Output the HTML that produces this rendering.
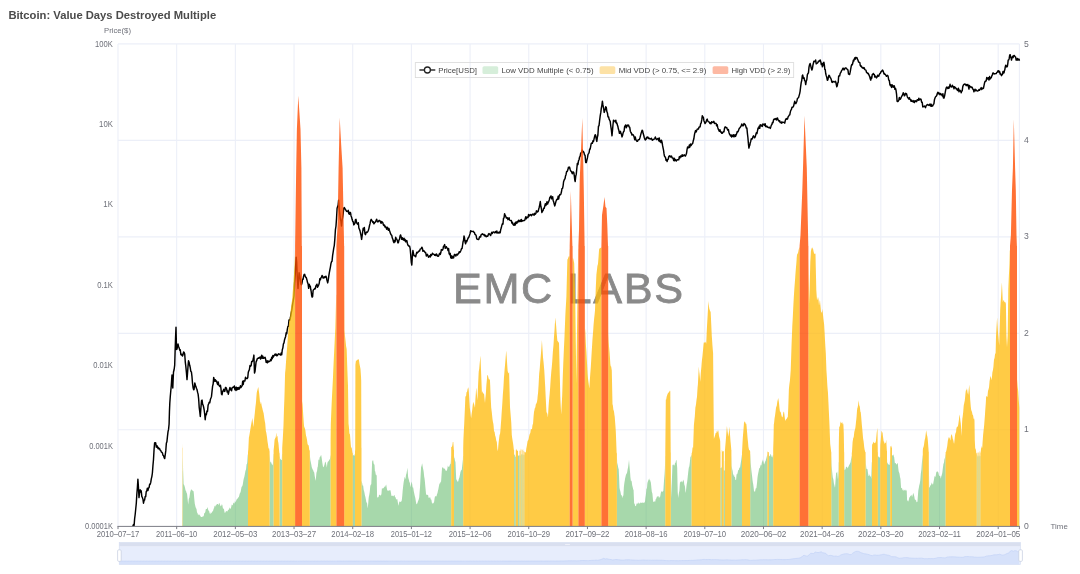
<!DOCTYPE html>
<html><head><meta charset="utf-8"><title>Bitcoin: Value Days Destroyed Multiple</title>
<style>html,body{margin:0;padding:0;background:#fff;}svg{display:block;filter:blur(0.35px);}text{font-family:"Liberation Sans",sans-serif;}</style>
</head><body>
<svg width="1080" height="574" viewBox="0 0 1080 574">
<rect x="0" y="0" width="1080" height="574" fill="#ffffff"/>
<g stroke="#eceff8" stroke-width="1.1" fill="none">
<line x1="118.00" y1="43.90" x2="118.00" y2="526.30"/>
<line x1="176.68" y1="43.90" x2="176.68" y2="526.30"/>
<line x1="235.36" y1="43.90" x2="235.36" y2="526.30"/>
<line x1="294.04" y1="43.90" x2="294.04" y2="526.30"/>
<line x1="352.72" y1="43.90" x2="352.72" y2="526.30"/>
<line x1="411.40" y1="43.90" x2="411.40" y2="526.30"/>
<line x1="470.08" y1="43.90" x2="470.08" y2="526.30"/>
<line x1="528.76" y1="43.90" x2="528.76" y2="526.30"/>
<line x1="587.44" y1="43.90" x2="587.44" y2="526.30"/>
<line x1="646.12" y1="43.90" x2="646.12" y2="526.30"/>
<line x1="704.80" y1="43.90" x2="704.80" y2="526.30"/>
<line x1="763.48" y1="43.90" x2="763.48" y2="526.30"/>
<line x1="822.16" y1="43.90" x2="822.16" y2="526.30"/>
<line x1="880.84" y1="43.90" x2="880.84" y2="526.30"/>
<line x1="939.52" y1="43.90" x2="939.52" y2="526.30"/>
<line x1="998.20" y1="43.90" x2="998.20" y2="526.30"/>
<line x1="1019.40" y1="43.90" x2="1019.40" y2="526.30"/>
<line x1="118.00" y1="43.90" x2="1019.40" y2="43.90"/>
<line x1="118.00" y1="140.38" x2="1019.40" y2="140.38"/>
<line x1="118.00" y1="236.86" x2="1019.40" y2="236.86"/>
<line x1="118.00" y1="333.34" x2="1019.40" y2="333.34"/>
<line x1="118.00" y1="429.82" x2="1019.40" y2="429.82"/>
</g>
<text x="453.0" y="303.4" font-size="43.2" letter-spacing="1.65" fill="#8a8a8a" stroke="#8a8a8a" stroke-width="0.8" text-anchor="start">EMC LABS</text>
<clipPath id="cp"><rect x="117.00" y="41.90" width="903.40" height="484.80"/></clipPath>
<path d="M132.90,526.00L133.50,524.45L134.10,525.50L134.60,519.00L135.17,514.48L135.73,508.95L136.30,503.20L136.83,494.31L137.37,487.86L137.90,479.30L138.45,487.33L139.00,497.60L139.55,492.70L140.10,489.80L140.67,492.01L141.23,490.87L141.80,496.36L142.37,497.48L142.93,499.14L143.50,503.20L144.05,500.62L144.60,500.05L145.15,496.54L145.70,496.58L146.25,491.50L146.80,490.90L147.37,488.14L147.93,490.61L148.50,488.05L149.07,487.61L149.63,484.28L150.20,484.20L150.75,482.41L151.30,478.92L151.85,476.61L152.40,473.00L152.95,465.53L153.50,459.51L154.05,449.69L154.60,443.00L155.17,442.71L155.73,442.99L156.30,447.20L156.87,445.74L157.43,446.28L158.00,448.50L158.55,447.89L159.10,449.08L159.65,448.61L160.20,450.40L160.75,450.55L161.30,451.90L161.87,452.33L162.43,452.93L163.00,455.30L163.57,455.79L164.13,457.63L164.70,458.60L165.25,454.71L165.80,450.63L166.35,443.26L166.90,441.80L167.45,436.68L168.00,431.91L168.55,429.42L169.10,424.00L169.45,411.58L169.80,403.10L170.30,396.24L170.80,390.80L171.30,385.20L171.65,379.68L172.00,375.00L172.40,382.74L172.80,388.00L173.15,379.45L173.50,372.00L174.10,369.76L174.70,365.10L175.13,350.63L175.57,337.57L176.00,327.20L176.50,349.50L177.00,349.19L177.50,346.38L178.00,344.00L178.57,346.46L179.13,347.85L179.70,350.16L180.27,349.88L180.83,354.44L181.40,355.10L181.95,354.25L182.50,355.97L183.05,354.66L183.60,351.90L184.15,352.57L184.70,354.00L185.27,361.81L185.85,366.63L186.43,372.71L187.00,379.60L187.50,373.60L188.00,366.47L188.50,360.70L189.08,362.24L189.66,365.27L190.24,367.54L190.82,371.48L191.40,371.80L191.95,376.33L192.50,383.10L193.05,387.48L193.60,389.70L194.00,389.61L194.40,386.56L194.80,383.00L195.35,385.01L195.90,386.87L196.45,388.37L197.00,389.49L197.55,392.17L198.10,394.10L198.65,398.90L199.20,407.35L199.75,411.57L200.30,416.50L200.90,408.09L201.50,400.80L202.05,400.08L202.60,404.08L203.15,405.30L203.70,407.50L204.20,410.24L204.70,414.28L205.20,419.80L205.78,414.09L206.36,414.71L206.94,411.02L207.52,411.43L208.10,405.30L208.67,403.78L209.23,402.15L209.80,402.66L210.37,399.53L210.93,398.09L211.50,396.40L212.05,391.19L212.60,386.14L213.15,384.02L213.70,377.40L214.27,379.58L214.83,381.41L215.40,379.76L215.97,381.17L216.53,380.97L217.10,383.00L217.65,384.58L218.20,381.99L218.75,384.81L219.30,385.84L219.85,386.60L220.40,385.20L220.95,388.48L221.50,394.10L222.06,394.64L222.62,391.56L223.19,390.68L223.75,389.15L224.31,391.42L224.88,391.21L225.44,387.58L226.00,387.50L226.60,388.80L227.20,392.00L227.75,391.13L228.30,394.23L228.85,391.91L229.40,389.52L229.95,387.51L230.50,388.46L231.05,390.33L231.60,390.73L232.15,387.62L232.70,387.50L233.25,386.91L233.80,387.41L234.35,385.97L234.90,389.74L235.45,387.52L236.00,390.48L236.55,387.29L237.10,389.70L237.66,387.69L238.22,389.21L238.79,387.47L239.35,388.98L239.91,387.59L240.47,385.68L241.04,387.50L241.60,386.30L242.15,385.98L242.70,381.16L243.25,384.46L243.80,380.80L244.37,381.04L244.93,380.98L245.50,377.32L246.07,378.37L246.63,378.45L247.20,378.50L247.75,377.62L248.30,372.23L248.85,370.72L249.40,369.60L249.97,365.58L250.53,366.33L251.10,365.58L251.67,361.56L252.23,361.44L252.80,360.70L253.35,358.54L253.90,355.10L254.50,373.00L255.03,371.25L255.57,366.36L256.10,361.80L256.67,360.67L257.23,358.83L257.80,358.38L258.37,357.97L258.93,358.23L259.50,357.30L260.05,357.05L260.60,359.02L261.15,357.11L261.70,355.23L262.25,358.31L262.80,356.20L263.36,358.22L263.93,358.00L264.49,357.81L265.05,357.21L265.61,359.11L266.18,362.36L266.74,361.06L267.30,362.90L267.85,360.70L268.40,362.04L268.95,361.55L269.50,361.46L270.05,360.97L270.60,359.60L271.16,360.66L271.73,357.15L272.29,358.72L272.85,355.57L273.41,356.97L273.98,355.62L274.54,355.00L275.10,354.00L275.65,355.32L276.20,354.20L276.75,355.72L277.30,355.53L277.85,354.72L278.40,353.95L278.95,353.83L279.50,354.22L280.05,354.74L280.60,355.10L281.17,353.02L281.73,354.73L282.30,349.75L282.87,347.86L283.43,343.77L284.00,342.80L284.55,339.70L285.10,337.97L285.65,336.39L286.20,332.64L286.75,333.73L287.30,329.50L287.87,326.56L288.43,326.38L289.00,319.88L289.57,320.56L290.13,318.68L290.70,316.10L291.25,312.99L291.80,310.15L292.35,306.40L292.90,302.70L293.45,299.55L294.00,296.00L294.60,283.13L295.20,275.00L295.70,265.21L296.20,257.20L296.65,262.10L297.10,273.64L297.55,281.06L298.00,288.50L298.55,280.41L299.10,272.80L299.70,275.51L300.30,279.54L300.90,284.00L301.44,284.75L301.98,283.04L302.52,279.25L303.06,279.37L303.60,276.20L304.15,274.49L304.70,274.33L305.25,276.42L305.80,277.30L306.38,277.88L306.95,279.95L307.53,282.56L308.10,284.00L308.65,288.33L309.20,284.27L309.75,285.71L310.30,286.20L310.75,289.25L311.20,291.56L311.65,295.46L312.10,297.00L312.60,296.75L313.10,290.51L313.60,289.60L314.16,289.38L314.73,288.42L315.29,288.77L315.85,285.99L316.41,285.28L316.98,284.15L317.54,287.28L318.10,286.20L318.67,284.96L319.23,283.33L319.80,278.79L320.37,279.80L320.93,277.84L321.50,277.30L322.05,275.53L322.60,276.16L323.15,278.17L323.70,277.30L324.25,277.71L324.80,276.72L325.35,277.12L325.90,276.20L326.35,277.12L326.80,279.64L327.25,281.28L327.70,282.90L328.23,280.23L328.77,276.08L329.30,272.80L329.85,269.85L330.40,267.08L330.95,263.67L331.50,261.70L332.05,261.14L332.60,255.64L333.15,252.19L333.70,248.30L334.27,245.59L334.85,238.90L335.43,229.63L336.00,226.00L336.55,217.97L337.10,208.20L337.60,206.61L338.10,205.29L338.60,200.30L339.20,208.28L339.80,213.93L340.40,219.30L340.95,221.18L341.50,226.00L342.07,220.46L342.65,217.44L343.23,213.28L343.80,208.20L344.35,207.47L344.90,208.82L345.45,209.35L346.00,210.48L346.55,211.37L347.10,211.50L347.67,211.32L348.23,210.32L348.80,213.60L349.37,214.23L349.93,212.28L350.50,212.60L351.05,215.93L351.60,217.26L352.15,219.57L352.70,221.40L353.25,221.90L353.80,224.90L354.35,224.22L354.90,223.36L355.45,219.58L356.00,219.30L356.57,222.61L357.15,223.61L357.73,224.13L358.30,222.70L358.85,227.97L359.40,229.19L359.95,230.63L360.50,233.08L361.05,235.60L361.60,239.40L362.13,235.81L362.67,231.89L363.20,228.20L363.78,229.94L364.36,227.48L364.94,233.79L365.52,234.65L366.10,232.70L366.65,232.12L367.20,232.45L367.75,231.64L368.30,230.50L368.88,228.60L369.46,225.76L370.04,223.63L370.62,220.51L371.20,219.30L371.74,220.42L372.28,221.07L372.82,222.40L373.36,221.83L373.90,223.80L374.45,223.00L375.00,222.16L375.55,222.01L376.10,220.40L376.66,219.18L377.22,221.14L377.78,221.96L378.34,221.59L378.90,220.49L379.46,220.45L380.02,220.87L380.58,222.19L381.14,223.33L381.70,221.50L382.25,222.24L382.80,222.56L383.35,224.77L383.90,225.49L384.45,225.03L385.00,227.10L385.56,226.60L386.12,227.82L386.69,229.21L387.25,227.31L387.81,227.95L388.38,230.27L388.94,228.54L389.50,230.50L390.06,232.16L390.62,233.99L391.19,234.94L391.75,235.33L392.31,238.05L392.88,239.23L393.44,241.60L394.00,242.70L394.55,240.55L395.10,241.86L395.65,237.31L396.20,238.30L396.75,239.18L397.30,240.51L397.85,242.80L398.40,242.70L398.95,239.99L399.50,239.48L400.05,236.14L400.60,234.90L401.18,236.95L401.75,239.32L402.32,237.77L402.90,239.40L403.45,239.95L404.00,238.24L404.55,240.62L405.10,239.40L405.66,241.75L406.23,241.12L406.79,240.49L407.35,243.25L407.91,245.02L408.48,245.79L409.04,246.28L409.60,246.10L410.15,248.54L410.70,254.70L411.25,262.05L411.80,265.00L412.35,256.22L412.90,250.50L413.45,253.31L414.00,255.65L414.55,255.65L415.10,256.10L415.67,256.75L416.23,254.18L416.80,252.32L417.37,252.97L417.93,252.10L418.50,251.60L419.05,250.81L419.60,251.00L420.15,249.22L420.70,248.91L421.25,248.46L421.80,247.20L422.37,248.13L422.93,251.37L423.50,250.55L424.07,251.04L424.63,251.61L425.20,252.80L425.75,252.75L426.30,255.95L426.85,255.19L427.40,254.38L427.95,255.76L428.50,257.20L429.06,256.62L429.62,255.82L430.19,257.05L430.75,254.39L431.31,255.63L431.88,254.87L432.44,253.13L433.00,253.90L433.56,254.22L434.12,254.36L434.69,255.23L435.25,254.55L435.81,255.58L436.38,253.88L436.94,254.74L437.50,256.10L438.05,256.33L438.60,256.04L439.15,254.44L439.70,253.30L440.25,254.43L440.80,252.80L441.35,249.59L441.90,249.77L442.45,250.12L443.00,248.99L443.55,246.18L444.10,246.10L444.67,244.58L445.23,248.29L445.80,247.35L446.37,246.67L446.93,247.99L447.50,248.30L448.04,250.63L448.59,248.57L449.13,253.70L449.67,254.75L450.21,253.36L450.76,257.64L451.30,258.30L451.88,255.86L452.46,258.12L453.04,256.72L453.62,257.91L454.20,255.00L454.75,254.39L455.30,255.00L455.85,256.05L456.40,254.36L456.95,254.30L457.50,255.00L458.07,253.88L458.63,253.43L459.20,251.67L459.77,252.48L460.33,251.79L460.90,250.50L461.47,248.74L462.03,248.53L462.60,245.00L463.07,241.67L463.53,240.31L464.00,236.00L464.53,238.05L465.07,241.96L465.60,243.80L466.15,240.75L466.70,241.76L467.25,240.27L467.80,238.84L468.35,237.61L468.90,237.10L469.47,235.38L470.05,233.63L470.62,230.78L471.20,231.60L471.75,231.19L472.30,231.42L472.85,231.63L473.40,231.28L473.95,232.38L474.50,232.70L475.05,234.60L475.60,234.68L476.15,235.56L476.70,238.52L477.25,239.26L477.80,239.40L478.36,239.62L478.93,239.16L479.49,236.97L480.05,236.47L480.61,237.01L481.18,234.65L481.74,234.38L482.30,233.80L482.86,234.45L483.43,234.72L483.99,234.35L484.55,235.88L485.11,235.00L485.68,236.18L486.24,236.80L486.80,236.00L487.35,236.38L487.90,236.18L488.45,234.02L489.00,233.59L489.55,234.01L490.10,234.83L490.65,235.58L491.20,233.80L491.76,232.30L492.32,233.56L492.89,232.12L493.45,231.97L494.01,232.15L494.57,232.84L495.14,232.09L495.70,231.60L496.26,232.92L496.82,230.89L497.39,232.90L497.95,233.08L498.51,232.36L499.07,232.90L499.64,232.00L500.20,232.70L500.75,229.39L501.30,227.84L501.85,225.38L502.40,223.80L502.95,224.17L503.50,218.26L504.05,217.88L504.60,213.70L505.15,215.03L505.70,216.26L506.25,217.82L506.80,218.20L507.36,217.70L507.93,219.67L508.49,219.40L509.05,217.78L509.61,220.18L510.18,220.40L510.74,220.58L511.30,220.40L511.85,223.11L512.40,222.24L512.95,224.29L513.50,224.90L514.06,225.31L514.62,223.32L515.18,225.08L515.74,222.09L516.30,221.90L516.86,223.38L517.42,221.43L517.98,222.06L518.54,220.20L519.10,221.50L519.66,221.46L520.22,220.15L520.78,221.51L521.34,219.53L521.90,221.40L522.46,220.57L523.02,220.79L523.58,220.55L524.14,220.64L524.70,220.40L525.25,218.53L525.80,216.74L526.35,218.78L526.90,217.26L527.45,217.20L528.00,217.53L528.55,214.56L529.10,216.00L529.66,215.09L530.23,215.09L530.79,214.49L531.35,215.73L531.91,215.11L532.48,214.28L533.04,213.97L533.60,214.80L534.16,215.19L534.73,213.32L535.29,214.15L535.85,213.60L536.41,210.84L536.98,211.24L537.54,211.92L538.10,211.50L538.65,209.34L539.20,207.28L539.75,204.80L540.30,201.50L540.83,206.23L541.37,208.53L541.90,212.60L542.48,211.05L543.06,210.70L543.64,208.15L544.22,208.30L544.80,205.90L545.35,203.76L545.90,205.45L546.45,204.08L547.00,201.73L547.55,204.13L548.10,202.60L548.68,201.57L549.26,199.94L549.84,197.50L550.42,196.77L551.00,195.90L551.54,198.84L552.09,197.93L552.63,196.71L553.17,200.76L553.71,201.84L554.26,204.34L554.80,205.90L555.35,203.83L555.90,201.64L556.45,200.03L557.00,199.20L557.57,199.51L558.13,196.29L558.70,198.96L559.27,195.72L559.83,194.44L560.40,194.80L560.94,193.79L561.48,191.76L562.02,188.36L562.56,188.35L563.10,185.80L563.57,181.79L564.03,180.54L564.50,179.30L565.00,178.89L565.50,175.98L566.00,174.70L566.60,171.55L567.20,171.51L567.80,170.07L568.40,167.30L568.98,168.10L569.56,167.13L570.14,169.41L570.72,171.00L571.30,171.40L571.80,172.41L572.30,173.73L572.80,171.87L573.30,171.88L573.80,172.60L574.27,175.53L574.73,179.74L575.20,181.50L575.73,176.23L576.27,174.14L576.80,168.50L577.36,163.45L577.92,164.70L578.48,160.92L579.04,159.76L579.60,157.00L580.14,156.35L580.68,153.14L581.22,152.89L581.76,151.88L582.30,150.30L582.85,152.01L583.40,151.62L583.95,152.68L584.50,154.80L585.10,155.48L585.70,162.54L586.30,162.60L586.88,160.16L587.45,157.88L588.02,154.36L588.60,153.60L589.12,152.53L589.64,149.07L590.16,149.04L590.68,146.45L591.20,143.60L591.78,143.07L592.35,143.23L592.92,140.84L593.50,141.40L594.07,138.84L594.63,136.36L595.20,134.70L595.73,135.66L596.27,139.18L596.80,141.40L597.35,137.36L597.90,135.04L598.45,126.35L599.00,125.80L599.60,120.66L600.20,115.95L600.80,112.40L601.33,108.20L601.87,105.36L602.40,101.20L602.85,104.40L603.30,106.83L603.75,109.13L604.20,112.40L604.70,111.03L605.20,109.03L605.70,106.80L606.28,107.46L606.85,111.54L607.42,112.93L608.00,116.80L608.55,116.74L609.10,119.20L609.65,120.24L610.20,121.30L610.80,126.25L611.40,130.09L612.00,135.80L612.50,130.40L613.00,124.49L613.50,120.20L614.08,120.58L614.65,120.89L615.22,121.96L615.80,120.20L616.32,123.25L616.84,122.95L617.36,125.08L617.88,126.38L618.40,129.10L618.91,130.52L619.43,133.31L619.94,133.15L620.46,131.36L620.97,133.41L621.49,134.49L622.00,136.90L622.52,135.57L623.03,133.20L623.55,131.65L624.07,131.28L624.58,126.82L625.10,125.80L625.68,124.95L626.26,127.77L626.84,126.14L627.42,125.02L628.00,125.80L628.58,125.11L629.16,126.96L629.74,127.38L630.32,131.23L630.90,132.50L631.43,133.28L631.97,134.96L632.50,134.56L633.03,134.74L633.57,135.43L634.10,136.90L634.68,139.70L635.26,136.93L635.84,139.77L636.42,140.53L637.00,141.40L637.58,141.34L638.16,139.64L638.74,139.86L639.32,139.50L639.90,138.00L640.45,135.90L641.00,133.64L641.55,131.96L642.10,130.20L642.64,131.02L643.18,133.55L643.72,135.24L644.26,137.53L644.80,139.10L645.38,140.00L645.96,139.53L646.54,137.33L647.12,137.94L647.70,136.90L648.22,137.63L648.74,138.54L649.26,138.24L649.78,138.93L650.30,139.10L650.86,138.59L651.42,138.24L651.98,139.85L652.54,140.24L653.10,139.56L653.66,139.30L654.22,139.09L654.78,138.33L655.34,136.96L655.90,138.70L656.46,139.52L657.02,139.22L657.58,138.63L658.14,138.38L658.70,140.78L659.26,137.86L659.82,141.58L660.38,140.62L660.94,142.51L661.50,140.30L662.03,142.18L662.57,145.48L663.10,148.10L663.53,150.19L663.97,153.46L664.40,155.90L664.94,156.81L665.48,157.39L666.02,160.33L666.56,159.60L667.10,161.50L667.65,159.59L668.20,159.25L668.75,156.76L669.30,155.90L669.85,155.83L670.40,156.99L670.95,156.63L671.50,156.12L672.05,157.63L672.60,158.10L673.14,158.29L673.69,160.63L674.23,158.25L674.77,160.73L675.31,159.39L675.86,160.23L676.40,161.00L676.99,159.94L677.57,159.81L678.16,159.68L678.74,159.84L679.33,156.72L679.91,157.96L680.50,155.90L681.05,156.79L681.60,156.49L682.15,154.81L682.70,156.36L683.25,155.24L683.80,155.59L684.35,154.86L684.90,155.68L685.45,156.03L686.00,154.80L686.53,153.33L687.07,149.39L687.60,147.00L688.17,147.67L688.74,147.79L689.31,145.08L689.89,147.16L690.46,144.02L691.03,145.57L691.60,144.70L692.15,143.89L692.70,143.38L693.25,140.78L693.80,139.10L694.20,136.42L694.60,133.90L695.00,132.50L695.58,130.57L696.16,131.91L696.74,130.22L697.32,129.06L697.90,129.10L698.45,129.08L699.00,127.24L699.55,127.01L700.10,126.90L700.65,123.64L701.20,122.95L701.75,119.96L702.30,115.70L702.84,117.10L703.38,117.25L703.92,120.66L704.46,122.01L705.00,123.50L705.55,122.75L706.10,121.87L706.65,119.88L707.20,119.10L707.74,120.91L708.28,121.70L708.82,121.95L709.36,122.21L709.90,123.50L710.48,122.80L711.06,123.75L711.64,121.74L712.22,122.46L712.80,122.40L713.35,121.83L713.90,121.37L714.45,123.55L715.00,123.11L715.55,123.35L716.10,123.50L716.64,125.71L717.18,124.69L717.72,127.45L718.26,129.15L718.80,130.20L719.37,131.36L719.94,129.77L720.51,131.90L721.09,131.73L721.66,133.20L722.23,133.31L722.80,132.50L723.38,131.65L723.95,131.85L724.52,128.30L725.10,126.90L725.65,127.03L726.20,127.66L726.75,127.61L727.30,129.10L727.84,130.19L728.38,129.46L728.92,132.38L729.46,134.01L730.00,134.70L730.57,136.01L731.14,134.98L731.71,137.03L732.29,135.31L732.86,136.14L733.43,134.71L734.00,136.90L734.54,135.48L735.08,134.79L735.62,136.38L736.16,134.78L736.70,133.60L737.28,131.40L737.86,131.88L738.44,130.71L739.02,128.89L739.60,128.00L740.15,127.46L740.70,126.58L741.25,125.78L741.80,124.02L742.35,125.10L742.90,125.88L743.45,125.46L744.00,123.50L744.58,124.13L745.16,124.57L745.74,125.99L746.32,127.98L746.90,128.00L747.40,133.37L747.90,137.48L748.40,143.43L748.90,148.10L749.35,146.22L749.80,145.25L750.25,142.68L750.70,141.40L751.25,138.84L751.80,139.21L752.35,138.77L752.90,136.90L753.48,135.82L754.05,136.80L754.62,137.76L755.20,136.90L755.78,134.75L756.36,132.71L756.94,133.54L757.52,130.59L758.10,128.00L758.64,128.56L759.18,126.20L759.72,128.27L760.26,124.63L760.80,125.80L761.32,125.06L761.84,126.04L762.36,126.38L762.88,123.93L763.40,124.60L763.97,124.28L764.54,125.45L765.11,123.71L765.69,126.54L766.26,126.79L766.83,126.14L767.40,126.90L767.97,127.42L768.53,127.65L769.10,127.20L769.67,127.41L770.23,128.37L770.80,126.90L771.35,125.14L771.90,124.46L772.45,122.49L773.00,122.70L773.55,120.00L774.10,119.10L774.67,119.38L775.23,118.87L775.80,118.61L776.37,120.03L776.93,118.10L777.50,118.00L778.05,120.11L778.60,120.27L779.15,121.48L779.70,120.77L780.25,122.56L780.80,122.40L781.37,123.13L781.93,121.81L782.50,122.66L783.07,122.28L783.63,122.37L784.20,122.40L784.75,123.11L785.30,120.60L785.85,119.12L786.40,118.52L786.95,119.21L787.50,119.10L788.07,116.98L788.63,116.11L789.20,115.15L789.77,114.80L790.33,111.90L790.90,110.10L791.45,109.45L792.00,107.19L792.55,107.36L793.10,107.01L793.65,105.89L794.20,103.50L794.74,101.16L795.28,103.44L795.82,103.65L796.36,102.46L796.90,101.20L797.45,98.36L798.00,98.10L798.55,97.57L799.10,95.60L799.60,93.85L800.10,91.30L800.65,86.62L801.20,82.64L801.75,80.53L802.30,75.70L802.75,74.99L803.20,78.23L803.65,77.44L804.10,78.00L804.63,80.49L805.17,81.12L805.70,84.60L806.25,81.25L806.80,79.71L807.35,74.86L807.90,73.50L808.45,72.97L809.00,67.10L809.55,64.75L810.10,63.40L810.70,65.67L811.30,68.33L811.90,70.10L812.40,68.58L812.90,65.29L813.40,63.23L813.90,61.20L814.48,61.41L815.06,61.53L815.64,60.04L816.22,63.88L816.80,63.40L817.37,63.09L817.93,62.45L818.50,61.15L819.07,61.44L819.63,60.64L820.20,60.10L820.75,61.70L821.30,64.51L821.85,63.47L822.40,66.80L822.90,65.54L823.40,62.78L823.90,62.30L824.35,64.79L824.80,69.34L825.25,69.66L825.70,73.50L826.23,75.64L826.77,77.40L827.30,80.20L827.85,79.99L828.40,77.01L828.95,75.21L829.50,75.70L830.08,77.53L830.66,78.04L831.24,79.41L831.82,82.10L832.40,82.40L832.98,81.33L833.56,81.60L834.14,81.88L834.72,81.92L835.30,81.30L835.80,81.90L836.30,84.49L836.80,86.75L837.30,85.70L837.75,82.81L838.20,82.50L838.65,76.17L839.10,75.70L839.68,75.93L840.26,73.13L840.84,72.47L841.42,70.89L842.00,70.10L842.52,69.12L843.03,68.14L843.55,68.62L844.07,69.88L844.58,69.36L845.10,67.90L845.70,67.93L846.30,68.13L846.90,69.00L847.44,69.45L847.98,70.09L848.52,74.09L849.06,74.12L849.60,74.60L850.15,72.19L850.70,69.08L851.25,66.04L851.80,64.50L852.30,64.66L852.80,63.05L853.30,60.29L853.80,61.05L854.30,59.00L854.84,57.70L855.38,59.14L855.92,57.36L856.46,57.64L857.00,57.80L857.55,59.40L858.10,60.47L858.65,62.15L859.20,62.30L859.75,62.43L860.30,65.68L860.85,66.39L861.40,66.02L861.95,67.41L862.50,67.90L863.07,67.52L863.63,68.49L864.20,67.73L864.77,69.45L865.33,69.92L865.90,70.10L866.48,72.29L867.06,72.81L867.64,73.58L868.22,73.35L868.80,74.60L869.30,75.78L869.80,77.07L870.30,79.01L870.80,80.20L871.28,77.01L871.76,78.26L872.24,74.68L872.72,74.35L873.20,73.50L873.74,74.18L874.28,74.33L874.82,77.08L875.36,76.05L875.90,76.80L876.47,77.94L877.03,77.19L877.60,75.22L878.17,75.72L878.73,76.21L879.30,74.60L879.85,73.53L880.40,73.18L880.95,71.81L881.50,71.66L882.05,70.51L882.60,70.10L883.14,71.08L883.68,72.86L884.22,74.14L884.76,73.83L885.30,74.60L885.88,75.23L886.46,76.30L887.04,75.64L887.62,75.34L888.20,76.80L888.75,80.09L889.30,80.35L889.85,84.37L890.40,85.70L890.97,84.77L891.53,87.46L892.10,84.70L892.67,86.52L893.23,87.14L893.80,85.70L894.35,85.90L894.90,89.38L895.45,88.28L896.00,90.20L896.55,94.06L897.10,101.30L897.67,101.63L898.23,101.24L898.80,100.01L899.37,97.41L899.93,99.41L900.50,99.10L901.05,97.71L901.60,96.54L902.15,95.52L902.70,94.70L903.25,92.78L903.80,93.76L904.35,95.83L904.90,95.38L905.45,93.35L906.00,93.50L906.58,93.94L907.15,96.13L907.72,97.89L908.30,98.00L908.85,99.06L909.40,97.61L909.95,99.26L910.50,99.60L911.05,101.21L911.60,100.20L912.17,101.53L912.73,101.07L913.30,101.92L913.87,100.55L914.43,102.59L915.00,101.30L915.55,100.71L916.10,101.31L916.65,101.63L917.20,99.69L917.75,99.71L918.30,100.20L918.84,98.29L919.38,99.92L919.92,99.49L920.46,99.01L921.00,99.10L921.60,102.18L922.20,102.27L922.80,106.90L923.35,106.69L923.90,106.62L924.45,106.09L925.00,106.93L925.55,107.67L926.10,105.80L926.67,105.19L927.23,104.53L927.80,104.67L928.37,105.16L928.93,105.45L929.50,104.70L930.05,104.06L930.60,106.03L931.15,104.27L931.70,106.23L932.25,106.03L932.80,105.80L933.35,104.30L933.90,103.97L934.45,99.70L935.00,98.00L935.58,96.72L936.15,96.21L936.72,95.45L937.30,93.50L937.85,92.21L938.40,93.76L938.95,92.79L939.50,94.11L940.05,94.81L940.60,93.50L941.17,94.30L941.73,94.90L942.30,95.93L942.87,93.66L943.43,97.99L944.00,98.00L944.55,96.04L945.10,93.16L945.65,90.12L946.20,88.00L946.75,87.10L947.30,87.43L947.85,88.56L948.40,87.10L948.95,88.29L949.50,86.80L950.07,84.33L950.63,86.36L951.20,87.06L951.77,86.79L952.33,85.21L952.90,86.80L953.45,86.55L954.00,88.77L954.55,86.71L955.10,87.38L955.65,87.66L956.20,89.10L956.76,88.85L957.33,90.27L957.89,90.50L958.45,88.25L959.01,91.88L959.58,90.18L960.14,90.46L960.70,91.30L961.20,92.73L961.70,90.89L962.20,90.80L962.75,86.81L963.30,85.20L963.87,84.49L964.43,84.30L965.00,83.93L965.57,84.48L966.13,85.54L966.70,84.60L967.27,85.50L967.83,84.41L968.40,86.30L968.95,89.08L969.50,85.55L970.05,86.71L970.60,86.73L971.15,87.53L971.70,86.90L972.27,87.48L972.83,89.14L973.40,89.60L973.96,91.84L974.51,90.12L975.07,89.20L975.63,90.77L976.19,89.90L976.74,90.53L977.30,91.10L977.86,90.88L978.42,90.62L978.98,89.63L979.54,90.31L980.10,89.10L980.66,88.79L981.22,87.61L981.78,89.58L982.34,88.27L982.90,88.50L983.45,88.26L984.00,85.70L984.55,82.87L985.10,81.30L985.66,81.41L986.22,80.72L986.78,77.39L987.34,78.11L987.90,79.10L988.46,77.79L989.02,79.97L989.58,76.57L990.14,79.02L990.70,77.90L991.25,77.70L991.80,75.88L992.35,74.80L992.90,72.90L993.45,72.97L994.00,74.00L994.55,73.72L995.10,73.68L995.65,73.60L996.20,73.61L996.75,72.47L997.30,72.40L997.70,71.16L998.10,70.73L998.50,70.70L999.03,72.19L999.57,71.31L1000.10,74.00L1000.57,73.36L1001.03,74.74L1001.50,75.70L1002.00,74.61L1002.50,74.32L1003.00,71.46L1003.50,73.13L1004.00,72.90L1004.40,70.79L1004.80,69.91L1005.20,67.30L1005.75,65.12L1006.30,66.46L1006.85,66.93L1007.40,66.20L1007.80,63.62L1008.20,60.10L1008.70,59.90L1009.20,58.41L1009.70,55.04L1010.20,54.70L1010.63,57.11L1011.07,57.98L1011.50,60.10L1012.05,57.38L1012.60,56.20L1013.15,57.67L1013.70,55.60L1014.25,55.38L1014.80,56.20L1015.25,56.78L1015.70,57.33L1016.15,60.09L1016.60,60.10L1017.00,59.62L1017.40,58.40L1017.90,60.17L1018.40,59.65L1018.90,59.08L1019.40,60.10" fill="none" stroke="#000" stroke-width="1.45" stroke-linejoin="round" stroke-linecap="round" clip-path="url(#cp)"/>
<path fill="rgba(86,180,94,0.52)" d="M182.20,526.30L182.20,526.00L182.40,470.69L182.50,470.69L182.50,526.30ZM182.80,526.30L182.80,456.90L183.00,465.66L183.10,470.04L183.20,472.76L183.40,478.30L183.60,483.95L183.80,484.45L184.00,484.82L184.20,485.15L184.40,485.48L184.60,486.24L184.80,487.01L185.00,487.82L185.20,488.79L185.40,489.75L185.60,490.38L185.80,490.69L186.00,490.99L186.20,491.61L186.40,492.34L186.60,493.07L186.80,493.35L187.00,493.62L187.20,495.29L187.40,497.18L187.60,499.08L187.80,500.92L188.00,502.70L188.20,504.48L188.40,502.75L188.60,500.87L188.80,499.00L189.00,498.56L189.20,498.12L189.40,497.44L189.60,496.06L189.80,494.68L190.00,493.35L190.20,492.09L190.30,491.45L190.40,491.45L190.60,490.91L190.80,490.19L191.00,489.48L191.20,489.46L191.40,489.44L191.60,489.50L191.80,489.78L192.00,490.06L192.20,490.27L192.40,490.41L192.60,490.54L192.80,490.77L193.00,491.02L193.20,491.27L193.40,491.16L193.60,491.04L193.80,493.22L194.00,495.62L194.20,498.03L194.40,500.15L194.60,501.98L194.80,503.82L195.00,504.56L195.20,505.48L195.40,506.40L195.60,507.03L195.80,507.66L196.00,508.20L196.20,508.47L196.40,508.73L196.60,509.55L196.80,510.93L197.00,512.32L197.20,512.83L197.40,513.06L197.60,513.29L197.80,514.10L198.00,514.92L198.10,515.32L198.20,515.30L198.40,514.86L198.60,514.42L198.80,514.25L199.00,514.36L199.20,514.48L199.40,514.71L199.60,514.99L199.80,515.27L200.00,515.50L200.20,515.73L200.40,516.00L200.60,516.40L200.80,516.79L201.00,517.00L201.20,517.02L201.40,517.05L201.60,517.00L201.80,516.92L202.00,516.84L202.20,516.83L202.40,516.81L202.60,516.87L202.80,516.56L203.00,516.25L203.20,516.15L203.40,516.27L203.60,516.38L203.80,515.57L204.00,514.46L204.20,513.34L204.40,513.23L204.60,513.12L204.80,512.94L205.00,512.54L205.20,512.15L205.40,511.41L205.60,510.32L205.80,509.24L206.00,509.01L206.20,509.06L206.40,509.11L206.60,509.06L206.80,509.02L207.00,508.60L207.20,507.91L207.40,507.21L207.60,507.33L207.80,508.27L208.00,509.21L208.20,509.79L208.40,510.25L208.60,510.71L208.80,510.87L209.00,511.02L209.20,511.34L209.40,512.16L209.60,512.98L209.80,513.49L210.00,513.70L210.20,513.90L210.40,513.90L210.60,513.09L210.80,512.27L211.00,512.67L211.20,513.06L211.40,513.26L211.60,512.85L211.80,512.45L212.00,512.11L212.20,511.85L212.40,511.58L212.60,511.37L212.80,511.18L213.00,510.99L213.20,510.28L213.40,509.57L213.60,508.93L213.80,508.50L214.00,508.07L214.20,507.44L214.40,506.62L214.60,505.80L214.80,505.80L215.00,506.30L215.20,506.80L215.40,506.26L215.60,505.73L215.80,505.32L216.00,505.24L216.20,505.16L216.40,504.92L216.60,504.53L216.80,504.13L217.00,504.01L217.20,503.98L217.40,503.95L217.60,503.96L217.80,503.97L218.00,504.10L218.20,504.57L218.40,505.23L218.60,505.05L218.80,504.03L219.00,503.01L219.20,502.95L219.40,503.20L219.60,503.45L219.80,504.08L220.00,504.70L220.20,505.28L220.40,505.74L220.60,506.20L220.80,506.32L221.00,506.11L221.20,505.89L221.40,505.28L221.50,504.91L221.60,504.70L221.80,504.28L222.00,504.47L222.20,504.66L222.40,505.14L222.60,506.48L222.80,507.81L223.00,508.50L223.20,508.53L223.40,508.57L223.60,508.78L223.80,509.05L224.00,509.32L224.20,510.40L224.40,511.48L224.60,512.40L224.80,512.83L224.90,513.05L225.00,512.99L225.20,512.70L225.40,512.24L225.60,511.77L225.80,511.56L226.00,511.43L226.20,511.30L226.40,511.20L226.60,511.11L226.80,511.09L227.00,511.32L227.20,511.54L227.40,511.41L227.60,510.93L227.80,510.46L228.00,510.20L228.20,510.01L228.40,509.82L228.60,509.67L228.80,509.52L229.00,509.20L229.20,508.35L229.40,507.50L229.60,507.46L229.80,508.24L230.00,509.01L230.20,509.01L230.40,508.75L230.50,508.61L230.60,508.43L230.80,508.04L231.00,507.64L231.20,507.08L231.40,506.01L231.60,504.93L231.80,504.49L232.00,504.67L232.20,504.86L232.40,505.07L232.60,505.30L232.80,505.53L233.00,504.41L233.20,503.28L233.40,502.51L233.60,502.79L233.80,503.07L234.00,503.28L234.20,503.42L234.40,503.56L234.60,502.83L234.80,501.81L234.90,501.30L235.00,500.77L235.20,501.43L235.40,502.09L235.60,502.42L235.80,501.78L236.00,501.13L236.20,500.55L236.40,500.02L236.60,499.49L236.80,499.25L237.00,499.11L237.20,498.97L237.40,498.78L237.60,498.59L237.80,498.32L238.00,497.85L238.20,497.38L238.40,497.17L238.60,497.20L238.80,497.24L239.00,496.58L239.20,495.69L239.40,494.80L239.60,494.18L239.80,493.55L240.00,493.02L240.20,492.79L240.40,492.55L240.60,491.92L240.80,490.88L241.00,489.83L241.20,488.82L241.40,487.81L241.60,486.81L241.80,486.70L242.00,486.59L242.20,486.37L242.40,485.83L242.60,485.29L242.80,484.35L243.00,483.02L243.20,481.68L243.40,480.59L243.60,479.57L243.80,478.56L244.00,477.91L244.20,477.27L244.40,476.52L244.60,475.46L244.80,474.40L245.00,473.32L245.20,472.22L245.40,471.12L245.60,470.47L245.80,469.98L246.00,469.48L246.20,467.63L246.40,465.78L246.60,464.32L246.80,464.02L247.00,463.71L247.20,462.62L247.40,459.63L247.60,456.64L247.80,454.39L248.00,454.39L248.00,526.30ZM269.60,526.30L269.60,454.10L269.80,456.50L270.00,459.70L270.20,462.91L270.40,462.36L270.60,461.82L270.80,461.55L271.00,462.08L271.20,462.61L271.40,463.12L271.60,463.63L271.80,464.13L272.00,464.36L272.20,464.49L272.40,464.63L272.60,465.01L272.80,465.39L273.00,462.23L273.20,458.14L273.40,454.10L273.60,454.10L273.60,526.30ZM279.60,526.30L279.60,455.30L279.80,456.41L280.00,457.53L280.20,458.92L280.40,459.12L280.60,459.32L280.80,459.58L281.00,459.87L281.20,460.15L281.40,460.03L281.60,459.90L281.80,459.81L282.00,454.10L282.20,454.10L282.20,526.30ZM309.80,526.30L309.80,454.10L310.00,456.01L310.10,457.64L310.20,458.58L310.40,460.20L310.60,461.03L310.80,462.09L311.00,463.07L311.20,463.98L311.40,464.90L311.60,466.19L311.70,466.90L311.80,467.17L312.00,467.72L312.20,468.35L312.40,468.98L312.60,469.48L312.80,469.59L313.00,469.70L313.20,470.13L313.40,470.90L313.60,471.66L313.80,471.78L313.90,471.73L314.00,471.99L314.20,472.51L314.40,473.85L314.60,475.18L314.80,476.47L315.00,477.59L315.20,478.72L315.40,479.79L315.60,480.80L315.80,479.42L316.00,477.45L316.20,475.29L316.40,473.12L316.60,472.21L316.70,471.76L316.80,471.68L317.00,471.18L317.20,469.63L317.40,468.07L317.60,467.10L317.80,466.70L318.00,464.83L318.20,462.54L318.40,460.12L318.60,459.30L318.80,459.77L319.00,460.23L319.20,460.26L319.40,458.97L319.60,457.69L319.80,456.98L320.00,456.85L320.10,456.79L320.20,456.80L320.40,456.47L320.60,456.03L320.80,455.59L321.00,455.26L321.20,454.93L321.40,456.33L321.60,457.54L321.80,458.76L322.00,460.20L322.20,461.87L322.30,462.71L322.40,463.19L322.60,464.33L322.80,465.53L323.00,466.74L323.20,466.86L323.40,466.98L323.60,467.28L323.80,466.69L324.00,466.10L324.20,465.51L324.40,464.92L324.60,464.33L324.80,463.33L325.00,462.19L325.10,461.62L325.20,461.72L325.40,461.96L325.60,462.20L325.80,462.58L326.00,463.40L326.20,464.22L326.40,465.19L326.60,466.31L326.80,467.43L327.00,466.14L327.20,464.48L327.40,462.83L327.60,462.41L327.80,461.99L328.00,461.62L328.20,461.38L328.40,461.14L328.60,461.14L328.80,460.85L329.00,460.55L329.20,460.11L329.40,459.63L329.60,459.15L329.80,459.18L329.90,459.20L330.00,458.57L330.20,457.19L330.40,455.46L330.60,455.46L330.60,526.30ZM352.80,526.30L352.80,455.37L352.90,456.04L353.00,455.71L353.20,455.06L353.40,455.06L353.60,455.28L353.80,455.51L354.00,455.62L354.20,455.73L354.40,455.66L354.60,455.07L354.70,454.78L354.80,454.10L355.00,454.10L355.00,526.30ZM361.50,526.30L361.50,480.70L361.60,481.04L361.80,481.73L362.00,482.42L362.20,483.36L362.40,484.38L362.60,485.40L362.80,485.53L363.00,485.66L363.20,485.79L363.40,487.50L363.60,489.21L363.80,490.37L364.00,490.98L364.20,491.60L364.40,492.54L364.60,493.59L364.70,494.12L364.80,494.87L365.00,495.57L365.20,496.27L365.40,497.04L365.60,497.99L365.80,498.94L366.00,500.07L366.20,501.37L366.30,502.03L366.40,502.50L366.60,502.68L366.80,502.62L367.00,502.56L367.20,504.28L367.40,506.01L367.60,507.43L367.80,507.94L368.00,505.69L368.20,503.39L368.40,501.03L368.60,498.68L368.80,497.07L368.90,496.40L369.00,496.04L369.20,495.32L369.40,494.09L369.60,492.86L369.80,491.33L370.00,488.90L370.20,486.46L370.40,485.46L370.60,485.10L370.80,484.74L371.00,484.44L371.20,484.15L371.30,484.01L371.40,481.37L371.60,475.76L371.80,470.15L372.00,464.51L372.10,461.62L372.20,461.44L372.40,461.08L372.60,460.72L372.80,460.37L373.00,460.01L373.20,460.55L373.40,461.40L373.60,463.23L373.80,463.69L374.00,464.15L374.20,464.52L374.40,464.61L374.50,464.66L374.60,466.09L374.80,469.30L374.90,471.08L375.00,471.17L375.20,471.37L375.40,472.35L375.60,473.59L375.80,474.83L376.00,474.84L376.20,474.85L376.40,474.99L376.60,475.51L376.70,475.77L376.80,481.35L377.00,492.22L377.10,497.51L377.20,497.52L377.40,497.55L377.60,497.41L377.80,497.21L378.00,497.02L378.20,497.13L378.40,497.24L378.60,497.06L378.80,496.01L379.00,494.96L379.20,494.53L379.40,494.74L379.60,494.94L379.70,494.98L379.80,495.06L380.00,495.22L380.20,495.37L380.40,495.49L380.60,495.61L380.80,495.58L381.00,495.10L381.20,494.62L381.40,494.44L381.60,492.00L381.80,489.56L381.90,488.34L382.00,488.38L382.20,488.47L382.40,488.55L382.60,488.42L382.80,488.29L383.00,488.19L383.20,488.17L383.40,488.15L383.60,488.02L383.80,487.77L384.00,487.53L384.20,487.26L384.40,486.85L384.60,486.45L384.80,486.58L385.00,486.71L385.20,486.69L385.40,486.22L385.60,485.74L385.80,485.25L386.00,484.73L386.10,484.47L386.20,484.84L386.40,485.83L386.60,486.92L386.80,488.00L387.00,489.22L387.20,490.45L387.40,490.59L387.60,490.55L387.80,490.52L388.00,490.54L388.20,490.63L388.40,490.72L388.60,490.70L388.80,490.57L389.00,490.44L389.20,490.42L389.40,490.39L389.60,490.33L389.80,490.15L390.00,489.97L390.10,489.88L390.20,490.08L390.40,490.48L390.60,490.88L390.80,491.97L391.00,493.29L391.20,494.61L391.40,495.59L391.60,495.89L391.80,496.10L392.00,496.00L392.20,495.89L392.40,495.79L392.60,495.68L392.80,495.58L393.00,495.79L393.20,496.09L393.40,496.40L393.60,496.04L393.80,495.68L394.00,495.35L394.20,495.15L394.40,494.95L394.60,495.21L394.80,495.95L395.00,496.95L395.20,497.22L395.40,497.25L395.60,497.28L395.80,498.18L396.00,499.08L396.20,499.70L396.40,499.46L396.60,499.21L396.80,499.02L397.00,498.87L397.20,498.96L397.40,499.82L397.60,500.94L397.80,502.06L398.00,503.52L398.20,504.98L398.30,505.71L398.40,505.61L398.60,504.68L398.80,503.74L399.00,502.97L399.20,502.35L399.40,501.73L399.60,501.51L399.80,501.41L400.00,501.43L400.20,501.68L400.40,501.92L400.60,502.05L400.80,501.86L401.00,501.68L401.20,501.44L401.40,501.16L401.60,500.87L401.70,500.87L401.80,499.97L402.00,498.17L402.20,496.38L402.40,493.90L402.60,491.43L402.80,489.56L403.00,487.70L403.20,485.85L403.40,484.21L403.60,482.79L403.70,482.09L403.80,481.50L404.00,480.43L404.20,479.40L404.40,478.37L404.60,476.77L404.80,477.24L405.00,477.78L405.20,478.50L405.40,479.21L405.60,478.08L405.80,476.59L406.00,475.10L406.20,474.35L406.40,473.86L406.50,473.61L406.60,473.02L406.80,471.82L407.00,470.62L407.20,469.26L407.40,467.44L407.60,469.64L407.80,472.24L408.00,475.23L408.10,476.73L408.20,477.34L408.40,478.13L408.60,478.76L408.80,479.40L409.00,480.29L409.20,481.18L409.40,481.95L409.60,482.37L409.80,482.79L410.00,483.61L410.20,485.06L410.40,486.52L410.60,486.97L410.80,485.81L411.00,484.65L411.20,483.44L411.40,482.23L411.50,481.63L411.60,481.83L411.80,482.53L412.00,483.23L412.20,484.29L412.40,485.71L412.60,487.13L412.80,487.53L413.00,487.49L413.20,487.44L413.40,488.76L413.60,490.08L413.80,491.30L414.00,492.25L414.20,493.21L414.30,493.68L414.40,494.13L414.60,495.03L414.80,495.93L415.00,496.78L415.20,497.62L415.40,498.45L415.60,499.71L415.80,500.97L416.00,502.14L416.20,503.01L416.40,503.89L416.50,504.32L416.60,504.25L416.80,504.10L417.00,503.95L417.20,503.53L417.40,503.02L417.60,502.50L417.80,501.86L418.00,501.21L418.20,500.69L418.40,500.24L418.60,499.79L418.80,499.16L419.00,498.33L419.20,497.51L419.40,494.90L419.60,492.29L419.80,489.69L420.00,487.14L420.20,483.38L420.40,479.61L420.60,475.80L420.80,471.99L421.00,468.39L421.10,466.69L421.20,466.64L421.40,466.54L421.60,465.79L421.80,464.82L422.00,463.85L422.20,463.59L422.40,464.75L422.60,465.92L422.80,467.15L423.00,468.37L423.20,469.26L423.30,469.52L423.40,470.07L423.60,471.15L423.80,472.85L424.00,474.75L424.20,476.66L424.40,477.71L424.50,478.24L424.60,478.88L424.80,480.42L425.00,482.67L425.20,484.91L425.40,487.15L425.60,489.37L425.80,491.59L426.00,493.50L426.10,494.41L426.20,494.51L426.40,494.71L426.60,494.71L426.80,494.70L427.00,494.74L427.20,494.88L427.40,495.02L427.60,495.00L427.80,494.81L428.00,494.62L428.20,495.52L428.40,496.78L428.60,497.98L428.80,497.69L429.00,497.40L429.20,497.26L429.40,497.59L429.60,497.91L429.80,497.82L430.00,497.31L430.20,497.27L430.40,497.88L430.60,498.71L430.80,499.53L431.00,499.60L431.10,499.63L431.20,499.55L431.40,499.73L431.60,500.95L431.80,502.18L432.00,503.00L432.20,503.42L432.40,503.84L432.60,503.53L432.80,502.98L433.00,502.42L433.20,503.40L433.40,503.29L433.60,503.10L433.80,502.62L434.00,502.13L434.20,501.15L434.40,499.66L434.60,498.17L434.80,497.26L435.00,496.53L435.10,496.17L435.20,496.09L435.40,496.20L435.60,496.31L435.80,496.40L436.00,496.40L436.20,496.41L436.40,496.21L436.60,495.82L436.70,495.63L436.80,495.01L437.00,494.32L437.20,493.82L437.40,493.31L437.60,492.41L437.80,491.50L438.00,490.61L438.20,489.76L438.40,488.91L438.60,487.85L438.80,486.75L439.00,485.64L439.20,484.72L439.40,483.85L439.50,483.42L439.60,483.59L439.80,483.56L440.00,483.53L440.20,483.33L440.40,482.59L440.60,481.86L440.80,481.67L441.00,482.02L441.20,479.64L441.40,476.94L441.60,474.12L441.80,471.30L442.00,468.66L442.10,467.34L442.20,467.29L442.40,467.27L442.60,467.51L442.80,467.74L443.00,467.83L443.20,467.76L443.40,467.70L443.60,468.15L443.80,468.64L444.00,469.13L444.20,468.78L444.40,468.43L444.60,468.28L444.80,468.72L445.00,469.16L445.10,469.39L445.20,469.62L445.40,470.09L445.60,470.56L445.80,470.68L446.00,470.70L446.20,470.71L446.40,470.74L446.60,470.78L446.80,470.84L447.00,470.01L447.20,469.18L447.40,468.20L447.60,467.06L447.80,465.93L447.90,465.54L448.00,465.81L448.20,466.37L448.40,466.92L448.60,466.89L448.80,466.85L449.00,466.81L449.20,466.74L449.40,466.22L449.60,465.68L449.80,465.11L450.00,464.55L450.20,464.25L450.40,464.04L450.60,463.83L450.70,463.23L450.80,461.91L450.90,460.59L451.00,456.18L451.20,456.18L451.20,526.30ZM454.00,526.30L454.00,454.10L454.10,457.93L454.20,457.68L454.30,457.43L454.40,457.55L454.60,458.44L454.80,459.54L455.00,460.64L455.20,461.35L455.40,462.07L455.50,462.42L455.60,464.71L455.80,469.42L456.00,474.13L456.20,478.74L456.40,479.32L456.60,479.90L456.80,480.28L457.00,480.60L457.20,480.91L457.40,481.18L457.60,481.44L457.80,481.83L457.90,482.21L458.00,481.91L458.20,481.33L458.40,480.64L458.60,479.85L458.80,479.05L459.00,478.44L459.20,477.91L459.40,477.39L459.60,476.46L459.80,475.53L460.00,474.55L460.20,473.43L460.40,472.32L460.60,471.65L460.80,471.04L461.00,470.43L461.20,470.22L461.40,470.14L461.60,470.06L461.80,469.54L462.00,467.70L462.20,465.85L462.40,464.00L462.60,462.15L462.80,460.53L462.90,459.83L463.00,455.89L463.20,455.89L463.20,526.30ZM514.10,526.30L514.10,455.74L514.20,455.28L514.40,454.37L514.60,454.60L514.80,454.84L515.00,455.24L515.20,456.15L515.40,457.06L515.60,456.75L515.80,456.75L515.80,526.30ZM518.00,526.30L518.00,455.76L518.20,455.85L518.40,455.71L518.60,455.50L518.80,455.29L519.00,455.48L519.10,455.58L519.20,455.58L519.20,526.30ZM519.56,526.30L519.56,455.42L519.60,455.40L519.80,455.30L519.89,455.25L519.92,455.25L519.92,526.30ZM520.28,526.30L520.28,455.69L520.40,455.84L520.60,455.24L520.61,455.20L520.64,455.20L520.64,526.30ZM521.00,526.30L521.00,454.10L521.20,454.10L521.33,454.10L521.36,454.10L521.36,526.30ZM521.72,526.30L521.72,454.65L521.80,454.76L522.00,455.05L522.05,455.13L522.08,455.13L522.08,526.30ZM522.44,526.30L522.44,454.63L522.60,454.36L522.77,454.27L522.80,454.27L522.80,526.30ZM523.16,526.30L523.16,454.26L523.20,454.26L523.40,454.81L523.49,455.05L523.52,455.05L523.52,526.30ZM523.88,526.30L523.88,455.49L524.00,455.24L524.20,454.82L524.21,454.80L524.30,454.80L524.30,526.30ZM616.90,526.30L616.90,456.15L617.00,458.42L617.20,462.95L617.40,463.54L617.60,464.38L617.80,465.22L618.00,466.39L618.20,467.55L618.40,468.50L618.60,468.81L618.70,468.96L618.80,470.93L619.00,475.38L619.20,480.34L619.40,485.30L619.50,487.65L619.60,488.15L619.80,489.15L620.00,490.15L620.20,490.85L620.40,491.55L620.60,492.38L620.80,493.62L621.00,494.86L621.10,495.48L621.20,495.34L621.40,495.06L621.60,494.78L621.80,495.57L622.00,496.73L622.20,497.88L622.40,497.53L622.50,497.35L622.60,496.80L622.80,495.95L623.00,495.87L623.20,495.79L623.40,495.60L623.60,492.04L623.80,488.49L623.90,486.71L624.00,485.93L624.20,484.36L624.40,482.79L624.60,481.59L624.80,480.38L625.00,479.01L625.20,478.11L625.40,477.21L625.60,476.35L625.80,475.55L626.00,474.75L626.20,474.29L626.40,473.95L626.60,473.61L626.70,473.46L626.80,473.23L627.00,472.77L627.20,472.09L627.40,470.78L627.60,469.46L627.80,468.46L628.00,467.78L628.10,467.44L628.20,466.57L628.40,464.94L628.60,463.36L628.80,461.78L629.00,459.60L629.20,462.20L629.40,464.76L629.60,467.18L629.80,469.60L630.00,471.45L630.20,474.16L630.40,476.88L630.60,478.61L630.80,480.00L631.00,481.39L631.20,480.97L631.40,480.55L631.60,480.63L631.80,482.22L632.00,483.82L632.20,485.16L632.30,485.71L632.40,486.09L632.60,486.84L632.80,487.61L633.00,488.39L633.20,489.17L633.40,489.67L633.60,490.17L633.80,495.39L634.00,500.44L634.10,502.96L634.20,503.14L634.40,503.52L634.60,503.92L634.80,504.33L635.00,505.21L635.10,505.72L635.20,505.81L635.40,505.99L635.60,506.10L635.80,506.20L636.00,506.06L636.20,505.16L636.40,504.27L636.60,503.73L636.80,503.55L637.00,503.37L637.20,503.42L637.30,503.49L637.40,503.63L637.60,503.91L637.80,503.24L638.00,502.58L638.20,502.20L638.40,502.71L638.60,503.21L638.80,503.42L639.00,503.31L639.20,503.21L639.40,503.37L639.60,503.62L639.80,503.87L640.00,503.45L640.10,503.24L640.20,503.03L640.40,502.70L640.60,502.61L640.80,502.51L641.00,502.53L641.20,502.65L641.40,502.77L641.60,502.86L641.80,502.94L642.00,503.02L642.20,502.78L642.40,502.54L642.60,502.41L642.80,502.60L642.90,502.69L643.00,502.70L643.20,502.72L643.40,502.75L643.60,502.78L643.80,502.74L644.00,502.67L644.20,502.61L644.40,502.57L644.60,502.53L644.80,502.24L645.00,501.22L645.10,500.71L645.20,499.59L645.40,497.83L645.60,496.53L645.80,495.23L646.00,493.33L646.20,491.24L646.40,488.95L646.60,488.76L646.80,488.58L647.00,487.82L647.20,485.35L647.30,484.11L647.40,483.30L647.60,482.24L647.80,481.71L648.00,481.19L648.20,480.63L648.40,480.06L648.50,479.78L648.60,479.91L648.80,479.37L649.00,478.83L649.20,478.59L649.40,479.26L649.60,479.93L649.80,480.22L650.00,480.14L650.10,480.10L650.20,480.57L650.40,481.20L650.60,481.72L650.80,482.24L651.00,484.04L651.20,485.84L651.40,487.92L651.60,489.70L651.80,491.48L652.00,492.61L652.20,493.09L652.40,493.57L652.60,495.46L652.80,497.83L653.00,500.19L653.20,501.49L653.30,502.13L653.40,501.98L653.60,501.74L653.80,501.71L654.00,501.68L654.20,501.60L654.40,501.47L654.60,501.35L654.80,501.44L655.00,501.61L655.20,501.77L655.40,500.76L655.60,499.76L655.80,498.96L656.00,498.81L656.20,498.66L656.30,498.59L656.40,498.23L656.60,497.52L656.80,496.81L657.00,496.69L657.20,496.77L657.40,496.86L657.60,496.39L657.80,495.92L658.00,495.63L658.20,495.90L658.40,496.17L658.60,496.62L658.80,497.26L659.00,497.89L659.20,497.76L659.40,497.38L659.60,496.99L659.80,496.83L660.00,496.67L660.20,496.48L660.40,495.24L660.60,494.01L660.80,493.00L661.00,492.21L661.20,491.41L661.30,491.07L661.40,491.18L661.60,491.39L661.80,491.60L662.00,491.73L662.20,491.87L662.40,491.90L662.60,491.62L662.80,491.34L663.00,491.16L663.20,491.09L663.30,491.05L663.40,489.66L663.60,486.73L663.80,483.75L664.00,480.76L664.10,479.59L664.20,478.43L664.40,476.11L664.60,473.54L664.80,470.19L664.90,468.52L665.00,464.16L665.20,455.70L665.30,455.70L665.30,526.30ZM670.80,526.30L670.80,461.50L671.00,479.82L671.20,498.06L671.40,492.54L671.60,487.01L671.80,481.96L671.90,479.68L672.00,476.97L672.20,471.55L672.40,465.44L672.60,465.04L672.80,464.64L673.00,464.57L673.20,464.50L673.40,464.53L673.60,464.85L673.80,465.17L674.00,465.38L674.20,465.50L674.40,465.62L674.60,465.12L674.70,464.77L674.80,464.18L675.00,463.02L675.20,462.88L675.40,462.74L675.60,462.40L675.80,461.46L676.00,460.33L676.20,459.93L676.40,460.28L676.60,460.62L676.80,463.36L677.00,465.61L677.20,467.86L677.40,477.33L677.60,486.80L677.70,491.54L677.80,493.08L678.00,495.60L678.20,498.12L678.40,496.32L678.60,495.07L678.80,493.81L679.00,492.54L679.10,491.91L679.20,491.43L679.40,490.47L679.60,487.49L679.80,484.52L680.00,482.10L680.20,481.37L680.40,481.86L680.60,482.16L680.80,482.27L681.00,482.37L681.20,482.10L681.40,481.71L681.60,481.32L681.80,480.93L681.90,480.73L682.00,480.61L682.20,480.64L682.40,481.51L682.60,482.37L682.80,482.43L683.00,481.70L683.20,480.96L683.40,480.31L683.60,479.68L683.80,480.10L684.00,481.89L684.20,483.69L684.40,485.07L684.50,485.14L684.60,485.32L684.80,485.67L685.00,486.92L685.20,489.06L685.40,491.20L685.60,492.21L685.80,492.85L686.00,490.30L686.20,488.56L686.40,486.82L686.60,485.11L686.70,484.30L686.80,483.80L687.00,482.80L687.20,481.42L687.40,479.68L687.60,477.94L687.80,476.10L688.00,474.24L688.20,472.26L688.40,470.68L688.60,469.10L688.80,467.78L689.00,467.23L689.20,466.69L689.40,465.71L689.60,464.18L689.80,462.65L690.00,460.85L690.20,458.95L690.40,457.06L690.50,456.64L690.60,456.63L690.80,456.60L691.00,456.40L691.20,455.70L691.40,455.01L691.60,455.01L691.60,526.30ZM720.50,526.30L720.50,467.85L720.60,467.98L720.80,468.07L721.00,468.10L721.20,468.13L721.40,467.52L721.60,466.90L721.80,466.90L721.80,526.30ZM723.80,526.30L723.80,469.94L724.00,470.13L724.20,470.34L724.40,470.55L724.60,470.67L724.70,470.67L724.80,460.68L724.90,460.68L724.90,526.30ZM731.40,526.30L731.40,454.59L731.60,462.30L731.70,466.12L731.80,466.73L732.00,467.96L732.20,469.18L732.40,470.01L732.60,470.83L732.80,471.89L733.00,473.67L733.20,475.46L733.40,476.10L733.60,475.01L733.80,473.92L734.00,474.56L734.20,475.79L734.40,477.01L734.60,476.92L734.80,476.83L735.00,477.11L735.20,478.46L735.40,479.82L735.60,480.05L735.80,480.09L736.00,480.13L736.20,478.49L736.40,476.30L736.60,474.10L736.70,474.28L736.80,474.31L737.00,474.37L737.20,474.25L737.40,473.58L737.60,472.90L737.80,472.03L738.00,470.96L738.10,470.43L738.20,470.17L738.40,470.05L738.60,470.07L738.80,470.09L739.00,468.92L739.20,467.74L739.40,467.05L739.60,467.81L739.80,468.56L740.00,467.87L740.20,466.60L740.40,465.32L740.60,464.08L740.80,462.85L741.00,461.62L741.20,460.14L741.40,458.65L741.60,457.31L741.70,456.87L741.80,455.30L742.00,455.30L742.00,526.30ZM750.20,526.30L750.20,454.10L750.30,454.35L750.40,456.17L750.60,460.43L750.70,462.56L750.80,463.93L751.00,466.34L751.20,468.39L751.40,470.45L751.60,472.19L751.80,473.83L752.00,475.45L752.20,477.23L752.40,479.01L752.60,480.69L752.80,482.04L752.90,482.71L753.00,483.19L753.20,484.35L753.40,485.74L753.60,487.13L753.80,488.93L754.00,490.88L754.20,491.80L754.40,491.61L754.60,491.42L754.80,491.31L755.00,491.41L755.10,491.46L755.20,490.81L755.40,489.77L755.60,489.02L755.80,488.27L756.00,488.18L756.20,488.30L756.40,488.02L756.60,486.42L756.80,484.82L757.00,483.04L757.20,480.77L757.30,479.64L757.40,478.56L757.60,476.83L757.80,475.51L758.00,474.20L758.20,473.13L758.40,472.14L758.50,471.65L758.60,471.41L758.80,470.29L759.00,469.17L759.20,468.29L759.40,468.17L759.60,468.04L759.80,467.88L760.00,467.15L760.20,466.42L760.40,465.78L760.60,465.18L760.80,464.57L761.00,465.08L761.20,465.59L761.40,465.36L761.60,464.09L761.80,462.81L762.00,461.97L762.20,461.58L762.40,461.18L762.60,460.53L762.80,459.79L762.90,459.43L763.00,459.84L763.20,460.65L763.40,461.46L763.60,462.35L763.80,463.47L764.00,464.59L764.20,464.33L764.40,463.79L764.60,463.26L764.80,462.69L765.00,462.12L765.20,461.54L765.40,461.22L765.60,460.90L765.70,460.74L765.80,460.28L766.00,459.57L766.20,458.86L766.40,458.08L766.60,457.23L766.80,456.38L767.00,455.76L767.20,455.16L767.30,454.86L767.40,454.86L767.40,526.30ZM768.90,526.30L768.90,455.21L769.00,455.44L769.20,455.78L769.40,456.08L769.60,456.39L769.80,456.01L770.00,455.64L770.20,455.15L770.40,454.29L770.60,454.10L770.70,454.10L770.80,454.10L771.00,454.39L771.20,455.32L771.40,455.93L771.60,456.44L771.80,456.95L772.00,457.26L772.20,457.57L772.40,457.00L772.60,456.26L772.80,455.52L773.00,454.88L773.20,454.88L773.20,526.30ZM831.30,526.30L831.30,455.14L831.40,457.92L831.60,463.48L831.70,466.26L831.80,467.31L832.00,469.65L832.20,472.00L832.40,474.02L832.60,475.72L832.80,477.42L833.00,478.18L833.20,478.83L833.40,479.48L833.60,480.94L833.80,482.41L833.90,483.15L834.00,483.65L834.20,484.51L834.40,485.36L834.60,486.20L834.80,487.03L835.00,487.87L835.20,485.18L835.40,482.48L835.60,479.77L835.80,476.97L836.00,474.17L836.10,472.77L836.20,472.67L836.40,472.73L836.60,472.79L836.80,472.55L837.00,472.02L837.20,471.49L837.40,473.46L837.60,475.75L837.80,478.03L838.00,479.18L838.20,475.63L838.40,472.00L838.50,470.06L838.60,462.27L838.80,462.27L838.80,526.30ZM844.20,526.30L844.20,459.25L844.30,466.22L844.40,468.18L844.50,470.18L844.60,470.04L844.80,469.76L845.00,469.55L845.20,469.57L845.40,469.59L845.60,469.04L845.80,467.94L846.00,466.83L846.20,466.42L846.40,466.65L846.60,466.88L846.80,466.98L847.00,467.08L847.20,467.26L847.40,467.69L847.60,468.11L847.80,468.39L848.00,467.72L848.20,467.06L848.40,466.64L848.60,466.31L848.80,465.98L849.00,465.30L849.20,464.98L849.40,464.65L849.60,464.28L849.80,463.92L850.00,463.47L850.20,462.96L850.40,462.44L850.60,462.15L850.80,460.81L851.00,459.47L851.20,458.50L851.40,457.54L851.60,456.45L851.70,455.71L851.80,455.71L851.80,526.30ZM865.60,526.30L865.60,455.24L865.70,458.25L865.80,460.82L865.90,463.94L866.00,464.86L866.20,466.70L866.40,468.54L866.60,468.73L866.80,468.91L867.00,469.04L867.20,469.01L867.30,468.99L867.40,469.15L867.60,470.08L867.80,471.61L868.00,473.14L868.20,474.30L868.40,475.34L868.50,475.86L868.60,475.89L868.80,476.02L869.00,476.16L869.20,476.07L869.40,475.30L869.60,474.53L869.80,474.55L870.00,475.35L870.10,475.75L870.20,476.38L870.40,476.57L870.60,476.42L870.80,476.26L871.00,477.49L871.20,478.73L871.40,474.08L871.60,468.18L871.80,462.28L872.00,462.28L872.00,526.30ZM877.90,526.30L877.90,456.49L878.00,456.48L878.20,456.44L878.40,456.39L878.60,456.60L878.80,457.05L879.00,457.51L879.20,457.56L879.40,457.48L879.60,457.40L879.80,457.20L880.00,457.00L880.10,456.91L880.20,456.91L880.20,526.30ZM887.00,526.30L887.00,456.65L887.10,461.91L887.20,462.34L887.40,462.91L887.60,463.18L887.80,463.45L887.90,463.78L888.00,463.86L888.20,464.02L888.40,464.18L888.60,464.45L888.80,464.71L889.00,464.90L889.20,464.88L889.40,464.85L889.60,464.86L889.80,462.70L890.00,460.55L890.10,459.23L890.20,459.23L890.20,526.30ZM892.00,526.30L892.00,455.17L892.20,455.51L892.40,455.56L892.60,455.45L892.80,455.33L893.00,454.97L893.20,454.61L893.40,454.55L893.60,455.36L893.80,456.17L894.00,456.64L894.10,456.71L894.20,457.55L894.40,459.22L894.60,460.84L894.80,462.44L894.90,463.24L895.00,463.28L895.20,463.09L895.40,462.91L895.60,462.88L895.80,463.29L896.00,463.71L896.20,464.07L896.30,464.23L896.40,464.35L896.60,464.59L896.80,464.38L897.00,464.02L897.20,463.66L897.40,463.32L897.60,462.98L897.80,462.92L898.00,465.15L898.20,467.39L898.40,469.30L898.60,470.87L898.80,471.63L899.00,472.24L899.20,472.79L899.40,473.35L899.60,474.34L899.70,474.84L899.80,475.61L900.00,476.95L900.20,477.72L900.40,478.49L900.50,478.87L900.60,480.45L900.80,483.62L901.00,486.78L901.10,488.31L901.20,488.20L901.40,487.97L901.60,487.75L901.80,487.89L901.90,487.96L902.00,488.25L902.20,488.86L902.40,489.51L902.60,490.15L902.80,490.32L903.00,490.03L903.20,489.35L903.40,489.70L903.60,490.38L903.80,491.07L904.00,490.82L904.20,490.58L904.40,490.32L904.60,490.01L904.70,489.85L904.80,489.79L905.00,489.74L905.20,489.79L905.40,489.83L905.60,490.21L905.80,490.71L906.00,491.21L906.20,490.68L906.40,490.15L906.60,489.79L906.70,489.85L906.80,492.52L907.00,497.84L907.10,500.50L907.20,500.47L907.40,500.40L907.60,500.33L907.80,500.88L908.00,501.62L908.20,501.39L908.40,500.94L908.60,500.50L908.80,499.91L909.00,498.91L909.20,497.91L909.40,497.55L909.60,497.30L909.80,497.05L910.00,496.68L910.20,496.26L910.40,495.84L910.60,495.75L910.80,495.66L911.00,495.70L911.20,495.26L911.40,494.82L911.60,495.04L911.80,495.93L912.00,496.82L912.20,496.75L912.30,496.55L912.40,496.10L912.60,495.20L912.80,494.56L913.00,493.91L913.20,493.35L913.40,493.05L913.60,493.86L913.80,494.60L914.00,495.26L914.20,495.93L914.40,497.03L914.60,498.27L914.70,498.89L914.80,499.33L915.00,499.73L915.20,500.13L915.40,500.31L915.60,499.85L915.80,499.39L916.00,499.69L916.20,500.77L916.40,501.85L916.60,502.12L916.80,502.19L917.00,502.27L917.20,501.88L917.40,501.49L917.50,501.30L917.60,499.85L917.80,497.06L918.00,494.26L918.20,491.73L918.30,490.60L918.40,490.10L918.60,489.10L918.80,487.95L919.00,486.74L919.20,485.53L919.40,484.85L919.60,484.17L919.80,483.35L920.00,482.12L920.20,480.89L920.30,480.28L920.40,479.00L920.60,476.46L920.80,473.91L921.00,472.33L921.20,471.07L921.40,469.59L921.60,466.78L921.80,463.98L922.00,461.52L922.20,459.75L922.40,457.98L922.60,455.47L922.80,455.47L922.80,526.30ZM928.80,526.30L928.80,459.05L929.00,472.95L929.20,487.16L929.40,487.39L929.60,487.62L929.80,487.17L930.00,486.51L930.20,485.84L930.40,485.59L930.60,485.34L930.80,485.06L930.90,484.88L931.00,484.67L931.20,484.25L931.40,483.72L931.60,483.08L931.80,482.44L932.00,482.70L932.20,483.46L932.40,484.22L932.60,484.35L932.80,484.48L933.00,484.46L933.10,484.21L933.20,483.67L933.40,482.58L933.60,481.50L933.80,480.41L934.00,479.32L934.20,478.10L934.40,476.98L934.60,475.87L934.80,476.26L935.00,476.65L935.20,476.89L935.40,476.68L935.60,476.11L935.80,475.23L936.00,474.02L936.20,472.81L936.40,471.98L936.50,471.63L936.60,471.63L936.80,471.63L937.00,471.61L937.20,471.60L937.40,471.50L937.60,471.19L937.80,471.78L938.00,472.18L938.20,472.37L938.40,472.57L938.60,473.51L938.70,474.11L938.80,474.56L939.00,475.45L939.20,475.76L939.40,476.07L939.60,476.21L939.80,475.85L940.00,475.70L940.20,476.10L940.40,477.07L940.60,478.04L940.80,478.49L940.90,478.62L941.00,477.95L941.20,476.62L941.40,476.05L941.60,475.48L941.80,474.86L942.00,474.08L942.20,473.19L942.40,471.92L942.60,470.26L942.80,468.61L943.00,467.11L943.20,465.67L943.40,463.93L943.60,463.61L943.80,463.29L944.00,462.62L944.20,460.90L944.30,460.04L944.40,459.48L944.60,458.69L944.80,458.23L945.00,457.77L945.20,456.36L945.40,454.62L945.60,454.62L945.60,526.30ZM976.80,526.30L976.80,454.53L976.90,454.65L977.00,454.65L977.20,455.50L977.23,455.50L977.23,526.30ZM977.56,526.30L977.56,456.67L977.60,456.60L977.80,456.24L977.86,456.13L977.89,456.13L977.89,526.30ZM978.22,526.30L978.22,456.01L978.40,456.25L978.52,456.40L978.55,456.40L978.55,526.30ZM978.88,526.30L978.88,455.39L979.00,454.92L979.18,454.43L979.20,454.43L979.20,526.30ZM979.54,526.30L979.54,455.71L979.60,455.92L979.80,456.32L979.84,456.34L979.87,456.34L979.87,526.30ZM980.20,526.30L980.20,456.49L980.40,456.12L980.50,455.87L980.53,455.87L980.53,526.30Z"/>
<path fill="rgba(255,186,10,0.76)" d="M182.50,526.30L182.50,443.18L182.60,447.83L182.80,447.83L182.80,526.30ZM248.00,526.30L248.00,452.19L248.20,450.22L248.30,449.42L248.40,447.47L248.60,443.57L248.80,439.58L248.90,437.44L249.00,437.01L249.20,436.13L249.40,435.10L249.60,433.92L249.80,432.73L250.00,431.48L250.20,430.20L250.40,428.92L250.50,428.34L250.60,427.73L250.80,426.50L251.00,425.30L251.20,424.16L251.40,423.02L251.60,421.96L251.80,420.98L252.00,420.01L252.20,418.68L252.30,417.96L252.40,418.62L252.60,419.93L252.80,421.73L253.00,423.53L253.20,425.32L253.40,427.05L253.60,425.13L253.80,423.04L254.00,420.78L254.20,418.51L254.40,416.65L254.50,415.78L254.60,414.92L254.80,413.19L255.00,411.07L255.20,408.95L255.40,407.00L255.60,405.54L255.80,404.09L256.00,402.00L256.20,399.29L256.40,396.58L256.60,394.15L256.70,392.98L256.80,392.45L257.00,391.38L257.20,390.64L257.40,389.90L257.60,389.18L257.80,388.56L258.00,387.94L258.20,387.44L258.40,387.05L258.60,389.25L258.80,390.79L259.00,392.10L259.20,393.42L259.40,395.54L259.60,397.65L259.80,399.83L260.00,402.24L260.10,403.44L260.20,403.99L260.40,403.90L260.60,402.65L260.80,401.40L261.00,401.90L261.20,402.99L261.40,404.07L261.60,405.13L261.80,406.19L262.00,407.12L262.20,407.69L262.30,407.98L262.40,408.47L262.60,409.38L262.80,410.24L263.00,411.09L263.20,411.79L263.40,412.44L263.60,413.09L263.80,414.44L264.00,415.79L264.20,417.48L264.40,418.73L264.60,419.98L264.80,421.15L265.00,422.23L265.20,423.31L265.40,425.51L265.60,428.09L265.80,430.85L266.00,431.60L266.20,432.34L266.40,433.21L266.60,434.42L266.80,435.63L267.00,437.12L267.20,438.87L267.30,439.75L267.40,440.54L267.60,441.93L267.80,443.26L268.00,444.60L268.20,446.05L268.40,447.50L268.60,448.66L268.80,448.38L269.00,448.09L269.20,448.78L269.40,450.45L269.50,451.29L269.60,451.29L269.60,526.30ZM273.60,526.30L273.60,450.40L273.80,448.54L274.00,446.68L274.20,444.42L274.40,442.02L274.60,439.62L274.80,439.15L275.00,438.68L275.20,438.16L275.30,437.83L275.40,437.77L275.60,437.66L275.80,436.70L276.00,434.89L276.20,433.08L276.30,432.93L276.40,433.83L276.60,435.65L276.80,437.47L277.00,436.76L277.20,436.05L277.40,435.81L277.60,436.97L277.80,439.53L278.00,441.22L278.20,442.05L278.40,442.88L278.60,444.86L278.80,447.24L279.00,449.62L279.20,451.74L279.30,452.80L279.40,453.30L279.60,453.30L279.60,526.30ZM282.20,526.30L282.20,447.95L282.40,444.53L282.60,441.49L282.80,438.45L283.00,434.77L283.20,430.89L283.40,427.00L283.50,424.88L283.60,421.49L283.80,414.70L284.00,408.36L284.20,403.32L284.40,398.29L284.60,391.87L284.80,384.06L285.00,376.25L285.10,372.94L285.20,372.01L285.40,370.14L285.60,368.26L285.80,365.09L286.00,361.93L286.20,358.91L286.40,356.38L286.60,353.84L286.80,351.34L287.00,348.87L287.20,346.40L287.40,343.62L287.60,340.73L287.80,337.84L288.00,335.30L288.20,332.77L288.40,329.99L288.60,327.54L288.80,325.10L289.00,323.09L289.20,321.52L289.40,319.96L289.60,319.02L289.80,318.29L290.00,317.56L290.20,315.36L290.40,313.15L290.60,311.09L290.80,309.49L291.00,307.89L291.20,306.21L291.40,304.46L291.60,302.70L291.80,301.90L292.00,300.48L292.20,299.06L292.40,296.33L292.60,293.60L292.80,291.00L293.00,288.78L293.20,286.55L293.40,283.69L293.60,280.21L293.80,276.73L294.00,274.25L294.20,270.67L294.40,267.09L294.60,262.68L294.80,258.27L294.90,256.06L295.00,250.54L295.10,250.54L295.10,526.30ZM302.00,526.30L302.00,324.43L302.20,401.14L302.40,402.80L302.60,404.46L302.80,407.52L303.00,411.05L303.20,414.58L303.40,417.39L303.60,420.20L303.80,422.97L304.00,425.62L304.20,426.65L304.40,427.37L304.60,427.76L304.80,428.15L305.00,428.87L305.20,429.69L305.40,430.51L305.60,432.26L305.80,434.02L306.00,435.50L306.20,436.19L306.40,436.87L306.60,437.74L306.80,438.79L307.00,439.84L307.20,441.28L307.40,442.85L307.60,444.29L307.80,444.55L308.00,444.80L308.20,445.02L308.40,445.13L308.60,445.24L308.80,446.15L309.00,447.84L309.20,449.53L309.40,450.21L309.60,450.55L309.80,450.55L309.80,526.30ZM330.60,526.30L330.60,439.81L330.80,423.91L331.00,419.03L331.20,414.14L331.40,409.54L331.60,405.04L331.80,400.54L332.00,396.56L332.20,392.58L332.40,388.67L332.60,384.95L332.80,381.22L333.00,376.89L333.10,374.42L333.20,372.10L333.40,367.46L333.60,363.16L333.80,358.98L334.00,354.80L334.20,350.81L334.40,346.82L334.60,342.73L334.80,338.39L335.00,334.04L335.20,330.12L335.30,328.38L335.40,324.94L335.60,318.06L335.80,310.44L336.00,302.57L336.20,294.70L336.40,294.70L336.40,526.30ZM344.20,526.30L344.20,267.40L344.40,309.02L344.50,329.96L344.60,331.18L344.80,333.61L345.00,336.04L345.20,337.79L345.40,339.55L345.60,341.35L345.80,343.30L346.00,345.24L346.20,346.72L346.40,347.73L346.60,348.75L346.70,349.81L346.80,352.96L347.00,359.26L347.20,365.56L347.40,370.83L347.60,376.10L347.80,381.17L348.00,385.64L348.20,400.59L348.40,415.84L348.50,423.60L348.60,424.40L348.80,425.98L349.00,428.34L349.20,430.95L349.40,433.57L349.60,433.74L349.80,433.91L350.00,434.68L350.20,437.22L350.40,439.76L350.60,442.25L350.80,444.68L351.00,447.12L351.20,447.96L351.40,447.43L351.60,446.91L351.80,448.37L352.00,449.83L352.20,451.25L352.40,452.54L352.60,453.30L352.80,453.30L352.80,526.30ZM355.00,526.30L355.00,451.17L355.20,449.49L355.40,364.82L355.60,363.35L355.80,361.84L356.00,360.32L356.20,360.54L356.40,360.75L356.60,360.82L356.80,360.48L357.00,360.13L357.20,359.93L357.40,359.87L357.60,359.80L357.80,359.54L358.00,359.21L358.20,358.88L358.40,359.15L358.60,359.41L358.80,359.73L359.00,360.23L359.20,362.06L359.40,363.49L359.60,364.51L359.80,365.52L360.00,366.49L360.20,367.44L360.40,368.40L360.50,369.06L360.60,370.49L360.80,373.36L361.00,376.57L361.20,380.83L361.40,447.77L361.50,447.77L361.50,526.30ZM451.20,526.30L451.20,447.18L451.40,447.10L451.60,447.01L451.80,446.78L452.00,446.41L452.20,446.03L452.40,444.89L452.60,443.50L452.80,442.10L453.00,442.00L453.20,441.90L453.30,441.85L453.40,443.38L453.60,446.09L453.80,448.81L453.90,450.16L454.00,450.16L454.00,526.30ZM463.20,526.30L463.20,447.97L463.40,439.76L463.60,435.61L463.80,431.46L464.00,427.70L464.20,423.94L464.40,419.56L464.60,415.12L464.80,410.69L465.00,405.99L465.20,401.01L465.40,396.04L465.60,396.07L465.80,396.47L466.00,396.87L466.20,395.11L466.40,393.36L466.60,392.01L466.80,391.88L467.00,391.75L467.20,391.15L467.40,390.06L467.60,388.97L467.80,388.47L468.00,388.17L468.20,387.88L468.30,386.83L468.40,387.54L468.60,388.97L468.80,390.92L469.00,394.39L469.20,397.87L469.40,401.22L469.60,404.45L469.80,407.67L470.00,409.16L470.20,410.59L470.40,412.02L470.60,414.00L470.80,415.98L471.00,417.58L471.20,418.06L471.40,415.69L471.60,413.91L471.80,412.72L472.00,411.53L472.20,409.90L472.40,408.13L472.60,406.35L472.80,404.86L473.00,403.36L473.20,401.80L473.40,402.37L473.60,402.94L473.80,403.46L474.00,403.94L474.20,404.42L474.40,405.29L474.60,406.31L474.80,407.32L475.00,407.43L475.20,403.15L475.40,399.27L475.60,396.53L475.80,393.80L476.00,390.18L476.10,387.92L476.20,388.33L476.40,389.16L476.60,391.03L476.80,393.24L477.00,395.46L477.20,397.92L477.40,400.37L477.60,396.58L477.80,391.51L478.00,386.45L478.20,381.91L478.40,377.88L478.60,373.86L478.70,371.94L478.80,371.30L479.00,370.02L479.20,368.75L479.40,366.56L479.60,364.37L479.80,362.21L480.00,360.15L480.20,358.08L480.40,356.39L480.50,355.74L480.60,358.50L480.80,364.03L481.00,369.33L481.20,374.56L481.40,379.79L481.60,384.94L481.80,390.09L481.90,392.67L482.00,392.53L482.20,391.94L482.40,391.35L482.60,391.56L482.80,392.57L483.00,393.58L483.20,393.80L483.40,393.77L483.60,393.73L483.80,393.07L483.90,392.74L484.00,393.43L484.20,395.00L484.40,397.14L484.60,399.27L484.80,401.22L485.00,402.98L485.20,400.16L485.40,398.11L485.60,396.31L485.80,394.51L486.00,391.13L486.20,387.74L486.40,384.71L486.60,382.72L486.80,380.74L487.00,378.25L487.20,375.25L487.40,375.11L487.60,375.26L487.80,375.50L488.00,375.74L488.20,376.63L488.40,377.52L488.60,378.33L488.80,378.91L489.00,379.48L489.20,379.66L489.40,379.45L489.60,379.23L489.80,379.23L489.90,379.26L490.00,381.27L490.20,385.29L490.40,390.18L490.60,395.07L490.80,399.72L491.00,403.67L491.20,407.62L491.40,409.04L491.60,410.70L491.80,412.36L492.00,414.28L492.20,416.28L492.40,418.29L492.60,419.65L492.80,421.01L493.00,422.25L493.20,423.10L493.40,423.96L493.60,425.71L493.80,428.35L493.90,429.67L494.00,430.77L494.20,431.46L494.40,431.63L494.60,431.80L494.80,433.20L495.00,434.60L495.20,435.77L495.40,436.29L495.60,436.80L495.80,437.72L496.00,439.04L496.20,440.37L496.40,441.00L496.60,441.40L496.80,441.81L497.00,444.31L497.20,446.81L497.40,448.91L497.60,449.83L497.80,450.74L497.90,451.20L498.00,449.90L498.20,447.30L498.40,444.70L498.60,442.78L498.80,441.09L499.00,439.41L499.20,437.79L499.40,436.17L499.60,434.85L499.80,434.40L500.00,433.95L500.20,432.61L500.40,430.38L500.60,428.16L500.80,425.28L501.00,422.61L501.20,419.93L501.40,416.88L501.60,413.83L501.80,410.83L502.00,407.95L502.20,405.08L502.40,401.97L502.60,398.64L502.80,395.30L503.00,392.56L503.20,390.03L503.40,387.49L503.60,383.93L503.80,380.37L504.00,377.09L504.20,374.66L504.40,372.23L504.60,369.60L504.80,367.39L505.00,365.18L505.20,362.90L505.40,360.60L505.60,358.30L505.80,355.66L506.00,353.02L506.20,350.38L506.40,352.92L506.60,355.47L506.80,358.36L507.00,361.60L507.20,364.84L507.40,367.56L507.60,370.12L507.70,371.40L507.80,371.27L508.00,372.09L508.20,372.91L508.40,373.44L508.60,373.12L508.80,372.80L509.00,372.47L509.10,372.29L509.20,376.08L509.40,383.66L509.60,391.40L509.80,399.19L510.00,406.98L510.20,409.43L510.40,411.87L510.60,414.32L510.80,416.76L511.00,419.21L511.20,421.82L511.30,423.20L511.40,425.56L511.60,430.27L511.80,435.01L512.00,436.47L512.20,437.94L512.40,439.24L512.60,440.54L512.80,441.82L513.00,443.05L513.20,444.28L513.40,445.80L513.60,447.63L513.80,449.45L514.00,449.97L514.10,449.97L514.10,526.30ZM515.80,526.30L515.80,450.78L516.00,448.91L516.20,448.85L516.40,449.39L516.60,449.93L516.80,450.20L517.00,450.48L517.20,450.69L517.40,450.68L517.60,450.67L517.80,450.72L518.00,450.72L518.00,526.30ZM519.20,526.30L519.20,450.72L519.40,450.87L519.53,450.79L519.56,450.79L519.56,526.30ZM519.92,526.30L519.92,450.59L520.00,450.70L520.20,450.99L520.25,451.06L520.28,451.06L520.28,526.30ZM520.64,526.30L520.64,450.34L520.80,449.48L520.97,448.58L521.00,448.58L521.00,526.30ZM521.36,526.30L521.36,449.14L521.40,449.22L521.60,449.61L521.69,449.77L521.72,449.77L521.72,526.30ZM522.08,526.30L522.08,450.46L522.20,450.29L522.40,449.88L522.41,449.86L522.44,449.86L522.44,526.30ZM522.80,526.30L522.80,449.36L523.00,449.36L523.13,449.35L523.16,449.35L523.16,526.30ZM523.52,526.30L523.52,450.42L523.60,450.69L523.80,451.06L523.85,450.93L523.88,450.93L523.88,526.30ZM524.30,526.30L524.30,450.89L524.40,451.14L524.60,451.66L524.80,452.17L525.00,452.33L525.20,452.38L525.40,452.42L525.60,452.24L525.80,452.07L525.90,451.98L526.00,451.06L526.20,449.34L526.30,448.48L526.40,448.07L526.60,447.10L526.80,445.97L527.00,444.84L527.20,443.49L527.40,442.21L527.60,440.93L527.80,440.72L528.00,440.51L528.20,440.22L528.40,439.65L528.60,439.08L528.80,438.22L529.00,437.07L529.20,435.92L529.40,435.19L529.60,434.60L529.80,434.01L530.00,433.59L530.20,433.17L530.40,432.50L530.60,431.09L530.70,430.39L530.80,429.77L531.00,429.16L531.20,429.19L531.40,429.21L531.60,429.15L531.80,429.06L532.00,428.96L532.20,427.41L532.40,425.86L532.60,424.63L532.80,424.32L533.00,424.02L533.20,421.52L533.40,418.82L533.60,416.12L533.80,414.01L534.00,412.11L534.10,411.16L534.20,411.22L534.40,410.19L534.60,409.15L534.80,408.30L535.00,407.98L535.20,407.67L535.40,406.92L535.60,405.74L535.80,404.56L536.00,404.06L536.20,403.79L536.40,403.51L536.60,402.97L536.80,402.42L537.00,401.70L537.20,400.45L537.40,399.20L537.60,396.65L537.80,395.10L538.00,393.55L538.20,390.88L538.40,387.82L538.60,384.77L538.80,380.88L539.00,376.98L539.20,373.60L539.40,371.76L539.60,369.92L539.80,367.82L540.00,365.04L540.20,362.27L540.40,359.93L540.60,357.73L540.80,355.54L541.00,353.08L541.20,350.62L541.40,347.98L541.60,344.81L541.80,341.64L541.90,340.05L542.00,341.57L542.20,344.61L542.40,347.65L542.60,350.82L542.80,354.02L543.00,357.23L543.20,358.93L543.40,360.63L543.60,362.49L543.80,364.83L544.00,367.18L544.20,369.55L544.30,370.74L544.40,372.45L544.60,375.86L544.80,379.41L545.00,383.01L545.20,386.61L545.40,390.78L545.60,394.95L545.80,399.10L546.00,403.18L546.20,407.27L546.40,410.84L546.50,412.36L546.60,412.41L546.80,412.52L547.00,412.95L547.20,413.49L547.40,414.03L547.60,415.44L547.80,416.85L547.90,417.56L548.00,416.23L548.20,412.62L548.40,409.02L548.60,405.93L548.80,403.37L549.00,400.80L549.20,398.64L549.40,396.62L549.60,394.60L549.80,392.10L550.00,389.61L550.20,386.95L550.40,383.82L550.60,380.68L550.80,377.82L551.00,375.24L551.20,372.66L551.40,370.57L551.60,368.64L551.80,366.71L552.00,364.17L552.20,361.64L552.40,358.96L552.60,355.82L552.80,352.68L553.00,350.07L553.20,348.00L553.40,345.93L553.50,344.74L553.60,343.15L553.80,339.96L554.00,336.76L554.20,334.11L554.40,331.46L554.60,328.64L554.80,325.36L555.00,322.07L555.20,318.91L555.30,317.38L555.40,318.44L555.60,320.55L555.80,322.58L556.00,324.57L556.20,326.56L556.40,329.22L556.60,331.89L556.80,334.44L557.00,336.68L557.20,338.91L557.40,340.73L557.50,341.43L557.60,341.22L557.80,340.81L558.00,341.29L558.20,342.07L558.40,342.85L558.60,342.50L558.80,342.15L559.00,342.05L559.20,350.41L559.40,358.77L559.60,367.11L559.80,375.41L560.00,383.71L560.20,392.04L560.30,396.21L560.40,398.58L560.60,403.33L560.80,407.02L561.00,410.70L561.20,414.61L561.40,410.73L561.60,406.86L561.80,402.97L562.00,399.08L562.20,395.19L562.40,388.87L562.60,382.36L562.80,375.84L563.00,370.61L563.20,365.38L563.30,362.77L563.40,360.62L563.60,355.88L563.80,351.14L564.00,346.76L564.20,342.71L564.40,338.67L564.60,333.87L564.80,328.81L565.00,323.75L565.20,318.95L565.30,316.55L565.40,314.35L565.60,310.25L565.80,307.00L566.00,303.75L566.20,300.14L566.40,296.18L566.60,288.86L566.80,281.24L567.00,273.52L567.20,265.80L567.40,258.97L567.60,259.25L567.80,259.26L568.00,258.50L568.20,257.73L568.40,257.13L568.60,256.70L568.80,256.27L569.00,256.26L569.20,256.39L569.40,256.53L569.60,249.04L569.70,249.04L569.70,526.30ZM572.60,526.30L572.60,252.25L572.80,258.15L573.00,258.33L573.20,258.52L573.40,259.28L573.60,260.23L573.80,261.19L574.00,262.31L574.20,263.42L574.40,270.50L574.60,276.47L574.80,282.44L575.00,289.49L575.20,297.62L575.30,301.69L575.40,310.70L575.60,326.90L575.80,342.50L576.00,358.09L576.20,375.16L576.30,383.69L576.40,376.18L576.60,361.13L576.80,345.92L577.00,330.70L577.20,315.63L577.40,300.70L577.60,288.54L577.80,275.45L578.00,262.04L578.20,248.64L578.40,248.64L578.40,526.30ZM584.80,526.30L584.80,287.59L585.00,328.36L585.20,330.16L585.40,332.69L585.60,337.43L585.70,339.79L585.80,342.29L586.00,346.20L586.20,349.02L586.40,351.84L586.60,355.41L586.80,359.22L587.00,363.04L587.20,366.83L587.40,370.61L587.60,374.06L587.80,376.49L588.00,378.93L588.20,380.06L588.40,381.58L588.60,383.09L588.80,384.61L589.00,386.13L589.20,387.64L589.30,388.38L589.40,386.82L589.60,383.70L589.80,380.64L590.00,377.74L590.20,374.83L590.40,372.15L590.60,369.67L590.80,366.95L591.00,363.68L591.20,360.21L591.40,356.75L591.60,353.54L591.80,350.33L592.00,347.09L592.20,343.78L592.40,340.46L592.60,337.79L592.80,335.39L593.00,332.99L593.20,330.13L593.40,327.13L593.50,325.63L593.60,324.54L593.80,322.29L594.00,320.03L594.20,317.92L594.40,316.25L594.60,314.57L594.80,312.57L595.00,310.24L595.20,304.63L595.40,298.96L595.60,293.28L595.80,287.59L596.00,283.35L596.20,279.10L596.40,274.50L596.60,272.89L596.80,271.28L597.00,269.58L597.20,267.80L597.40,266.02L597.60,265.27L597.80,264.87L598.00,263.56L598.20,261.14L598.40,258.72L598.60,256.19L598.80,253.30L599.00,250.41L599.20,248.54L599.40,247.68L599.60,248.90L599.80,248.78L600.00,248.21L600.20,247.64L600.40,247.81L600.60,247.98L600.80,248.02L601.00,247.69L601.20,247.36L601.40,247.36L601.40,526.30ZM608.20,526.30L608.20,304.19L608.30,333.41L608.40,335.53L608.60,339.64L608.70,341.67L608.80,343.20L609.00,346.25L609.20,348.36L609.40,350.47L609.60,352.77L609.80,355.65L610.00,358.54L610.20,361.71L610.30,363.45L610.40,364.24L610.60,365.81L610.80,366.30L611.00,366.43L611.20,366.56L611.40,367.88L611.60,369.20L611.80,370.50L612.00,380.42L612.20,390.34L612.40,399.75L612.50,404.19L612.60,404.48L612.80,405.05L613.00,406.47L613.20,408.17L613.40,409.87L613.60,410.32L613.80,410.78L614.00,411.51L614.20,413.11L614.40,414.70L614.60,416.06L614.70,416.61L614.80,417.85L615.00,420.32L615.20,422.93L615.40,425.59L615.60,428.24L615.80,431.23L616.00,436.37L616.20,441.54L616.40,446.77L616.60,452.01L616.70,453.30L616.80,453.30L616.90,453.30L616.90,526.30ZM665.30,526.30L665.30,451.51L665.40,441.07L665.60,420.21L665.80,399.83L666.00,399.60L666.20,399.38L666.40,398.25L666.60,397.12L666.70,396.55L666.80,396.23L667.00,395.68L667.20,395.12L667.40,394.58L667.60,394.05L667.80,393.51L668.00,393.17L668.20,392.88L668.40,392.59L668.60,392.53L668.80,392.47L669.00,392.29L669.20,391.77L669.40,391.24L669.60,391.14L669.80,390.78L670.00,390.43L670.20,391.03L670.30,391.49L670.40,406.81L670.60,437.47L670.70,452.42L670.80,452.42L670.80,526.30ZM691.60,526.30L691.60,453.30L691.80,453.14L691.90,452.67L692.00,452.38L692.20,450.89L692.40,449.09L692.60,447.30L692.80,447.45L693.00,447.60L693.10,447.67L693.20,444.96L693.40,439.39L693.60,433.82L693.80,427.98L693.90,424.92L694.00,423.94L694.20,421.97L694.40,420.10L694.60,418.26L694.80,416.42L695.00,413.18L695.20,409.95L695.40,407.31L695.60,406.46L695.80,405.61L696.00,404.30L696.10,403.42L696.20,402.49L696.40,400.63L696.60,399.29L696.80,398.12L697.00,396.96L697.20,393.57L697.40,390.17L697.60,387.20L697.80,385.46L697.90,384.59L698.00,382.61L698.20,378.61L698.40,374.56L698.60,370.50L698.80,366.59L699.00,369.01L699.20,371.42L699.40,372.96L699.60,374.50L699.80,376.33L700.00,379.04L700.20,381.74L700.40,379.29L700.60,376.13L700.80,372.97L701.00,370.70L701.20,368.74L701.40,366.77L701.60,364.07L701.70,362.72L701.80,361.64L702.00,359.62L702.20,358.05L702.40,356.48L702.60,354.61L702.80,352.43L703.00,350.24L703.20,348.04L703.40,345.84L703.60,343.63L703.80,342.86L704.00,342.10L704.20,342.92L704.40,342.71L704.60,342.49L704.80,342.26L705.00,342.02L705.20,341.77L705.40,342.01L705.60,342.42L705.80,342.82L706.00,343.24L706.20,343.65L706.40,339.85L706.60,335.21L706.80,330.58L707.00,326.52L707.20,323.02L707.40,319.52L707.60,315.96L707.80,312.37L708.00,308.78L708.20,304.93L708.40,301.08L708.60,303.01L708.80,304.68L709.00,306.36L709.20,307.85L709.40,309.16L709.50,309.81L709.60,309.31L709.80,309.85L710.00,310.90L710.20,311.95L710.40,311.29L710.60,310.64L710.80,314.70L711.00,318.94L711.20,323.18L711.40,327.42L711.60,331.67L711.80,335.92L712.00,338.79L712.20,341.75L712.40,344.71L712.60,347.17L712.80,349.63L713.00,352.10L713.10,353.35L713.20,364.73L713.40,387.49L713.50,398.87L713.60,408.83L713.80,428.74L713.90,438.70L714.00,438.45L714.20,437.92L714.40,437.36L714.60,436.81L714.80,436.20L715.00,435.58L715.20,434.91L715.40,434.09L715.60,433.26L715.80,432.90L716.00,433.01L716.10,433.06L716.20,433.32L716.40,432.73L716.60,431.76L716.80,430.79L717.00,431.39L717.20,431.98L717.40,432.21L717.60,431.35L717.80,430.49L718.00,430.24L718.20,430.60L718.40,430.95L718.60,432.63L718.80,434.27L719.00,435.91L719.20,436.68L719.40,437.44L719.60,438.23L719.80,439.09L720.00,439.95L720.20,441.15L720.40,451.66L720.50,451.66L720.50,526.30ZM721.80,526.30L721.80,449.81L722.00,450.26L722.20,450.71L722.40,451.09L722.60,451.39L722.80,451.70L723.00,451.59L723.20,451.34L723.40,451.08L723.60,451.30L723.80,451.30L723.80,526.30ZM724.90,526.30L724.90,450.83L725.00,449.65L725.20,447.31L725.40,444.99L725.60,442.67L725.80,440.16L726.00,437.65L726.20,435.09L726.40,432.36L726.60,429.63L726.80,427.13L726.90,425.99L727.00,426.82L727.20,428.47L727.40,429.96L727.60,431.40L727.80,432.84L728.00,434.37L728.20,435.90L728.30,436.66L728.40,435.96L728.60,434.60L728.80,433.23L729.00,431.54L729.20,429.50L729.40,427.47L729.50,426.74L729.60,428.26L729.80,431.29L730.00,434.33L730.20,436.93L730.40,439.53L730.60,442.01L730.80,444.10L731.00,446.20L731.20,448.68L731.30,450.11L731.40,450.11L731.40,526.30ZM742.00,526.30L742.00,452.23L742.10,450.70L742.20,448.81L742.40,445.03L742.60,441.25L742.80,438.01L743.00,434.96L743.20,433.05L743.40,430.55L743.60,428.06L743.80,425.47L744.00,422.57L744.20,421.54L744.40,421.30L744.60,421.86L744.80,422.41L745.00,422.37L745.20,422.13L745.40,422.59L745.60,423.17L745.80,423.76L746.00,424.12L746.20,423.83L746.30,423.69L746.40,424.41L746.60,426.35L746.80,428.78L747.00,431.21L747.20,433.59L747.40,435.94L747.60,438.30L747.80,440.20L748.00,442.11L748.20,444.17L748.40,446.71L748.60,447.75L748.80,448.72L749.00,449.62L749.20,450.52L749.40,450.32L749.50,450.04L749.60,450.08L749.80,450.15L750.00,450.98L750.10,451.39L750.20,451.39L750.20,526.30ZM767.40,526.30L767.40,453.27L767.50,451.59L767.60,451.61L767.80,451.64L768.00,451.71L768.20,451.91L768.40,452.11L768.60,452.12L768.70,452.04L768.80,453.30L768.90,453.30L768.90,526.30ZM773.20,526.30L773.20,448.83L773.40,442.81L773.50,439.92L773.60,434.81L773.80,424.59L774.00,423.53L774.20,421.66L774.40,419.79L774.60,418.09L774.80,416.88L775.00,415.67L775.20,414.28L775.40,412.72L775.60,411.16L775.80,409.53L776.00,407.88L776.20,406.93L776.40,406.55L776.60,406.18L776.80,405.51L777.00,403.95L777.20,402.39L777.40,401.25L777.60,400.53L777.80,399.80L778.00,398.88L778.20,397.89L778.40,398.96L778.60,400.20L778.80,401.45L779.00,402.94L779.20,405.12L779.40,407.31L779.60,409.06L779.80,410.39L780.00,411.71L780.20,411.82L780.40,411.74L780.60,411.65L780.80,412.48L781.00,413.31L781.20,414.14L781.40,414.99L781.60,415.84L781.80,416.50L782.00,416.96L782.20,417.42L782.40,417.01L782.60,416.67L782.80,416.33L783.00,414.84L783.20,413.35L783.40,412.17L783.60,411.92L783.80,411.67L784.00,411.52L784.20,413.06L784.40,414.61L784.60,416.13L784.80,417.64L785.00,419.14L785.20,419.72L785.40,420.30L785.60,420.92L785.80,420.23L786.00,419.55L786.20,419.16L786.40,419.06L786.60,418.96L786.80,418.62L787.00,418.20L787.20,417.77L787.40,417.39L787.60,417.02L787.80,416.89L788.00,412.76L788.20,408.63L788.40,403.61L788.60,397.68L788.80,391.76L788.90,389.08L789.00,388.09L789.20,386.11L789.40,384.14L789.60,382.76L789.80,381.39L790.00,379.70L790.20,377.07L790.40,374.45L790.60,371.85L790.70,370.56L790.80,367.61L791.00,361.69L791.20,355.75L791.40,349.79L791.60,343.84L791.80,338.67L792.00,333.51L792.20,328.36L792.30,325.81L792.40,324.12L792.60,320.74L792.80,316.92L793.00,312.65L793.20,308.39L793.40,304.61L793.60,301.00L793.80,297.39L794.00,294.25L794.20,291.11L794.40,288.12L794.60,285.61L794.80,283.10L795.00,280.37L795.20,277.41L795.40,274.44L795.60,271.88L795.80,269.46L796.00,267.04L796.20,264.71L796.40,262.38L796.60,259.70L796.70,257.81L796.80,256.91L797.00,255.11L797.20,254.13L797.40,253.97L797.60,253.81L797.80,253.33L798.00,252.74L798.20,252.16L798.40,251.12L798.60,250.09L798.80,249.17L799.00,248.56L799.20,247.96L799.30,247.66L799.40,247.21L799.60,247.21L799.60,526.30ZM808.40,526.30L808.40,255.77L808.45,260.66L808.60,269.29L808.80,279.48L809.00,289.23L809.20,298.99L809.30,304.05L809.40,299.52L809.60,290.45L809.80,281.66L810.00,273.72L810.20,265.77L810.30,261.79L810.40,260.01L810.60,256.45L810.80,252.88L810.90,251.14L811.00,250.72L811.20,249.88L811.40,249.04L811.60,248.57L811.80,248.09L812.00,247.61L812.20,247.13L812.40,248.05L812.60,248.55L812.80,248.62L813.00,248.69L813.20,249.52L813.40,250.60L813.50,251.14L813.60,251.47L813.80,252.35L814.00,253.23L814.20,253.87L814.40,253.82L814.60,253.77L814.80,253.71L815.00,253.63L815.20,253.54L815.40,253.79L815.50,253.97L815.60,258.53L815.80,267.64L816.00,276.54L816.20,285.44L816.30,289.89L816.40,291.30L816.60,294.19L816.80,297.08L817.00,300.10L817.20,299.82L817.40,299.53L817.60,298.76L817.80,297.83L818.00,296.90L818.20,297.77L818.40,298.65L818.60,299.99L818.80,302.75L819.00,305.50L819.20,304.60L819.40,303.06L819.60,301.51L819.80,300.68L820.00,300.10L820.20,303.12L820.40,305.01L820.60,306.91L820.80,309.00L821.00,311.71L821.20,311.73L821.40,312.00L821.60,312.52L821.80,313.05L822.00,312.00L822.20,310.42L822.40,308.85L822.60,310.79L822.80,312.74L823.00,314.66L823.20,316.53L823.40,318.39L823.60,320.11L823.80,321.69L824.00,323.28L824.10,324.22L824.20,325.84L824.40,329.08L824.60,332.32L824.80,336.26L825.00,340.19L825.20,343.80L825.40,346.90L825.60,350.00L825.80,353.05L826.00,358.49L826.20,363.93L826.40,369.86L826.60,372.80L826.80,375.74L827.00,379.37L827.20,383.00L827.40,386.28L827.60,388.51L827.80,390.74L828.00,393.33L828.20,397.48L828.40,401.63L828.60,405.87L828.80,410.13L829.00,414.40L829.20,418.79L829.40,423.19L829.50,425.39L829.60,428.09L829.80,433.41L830.00,438.73L830.20,443.75L830.40,445.43L830.60,447.11L830.80,448.79L831.00,450.47L831.20,452.16L831.30,452.16L831.30,526.30ZM838.80,526.30L838.80,446.52L838.90,438.67L839.00,434.59L839.20,426.43L839.40,427.04L839.60,426.70L839.80,426.06L840.00,425.42L840.20,423.86L840.40,422.20L840.60,421.18L840.80,422.14L841.00,423.09L841.20,423.09L841.30,422.61L841.40,422.55L841.60,422.42L841.80,422.98L842.00,423.77L842.20,424.56L842.40,423.52L842.60,422.49L842.80,421.96L843.00,422.96L843.20,423.95L843.40,424.56L843.60,428.97L843.80,433.38L844.00,446.03L844.10,452.35L844.20,452.35L844.20,526.30ZM851.80,526.30L851.80,453.30L852.00,451.41L852.20,448.33L852.40,445.15L852.60,441.98L852.80,440.67L853.00,439.39L853.20,438.11L853.40,437.75L853.60,437.38L853.80,436.62L854.00,434.65L854.20,432.68L854.40,431.38L854.60,430.77L854.80,430.15L855.00,429.32L855.20,428.40L855.40,427.49L855.60,425.81L855.80,424.13L856.00,421.75L856.20,420.13L856.40,418.50L856.60,416.27L856.80,413.43L857.00,410.59L857.20,408.97L857.40,407.76L857.60,407.77L857.80,406.60L858.00,405.43L858.20,404.16L858.40,402.60L858.60,401.03L858.70,400.25L858.80,401.21L859.00,403.11L859.20,405.01L859.40,405.77L859.60,406.14L859.80,406.52L860.00,408.39L860.20,410.26L860.40,411.71L860.60,411.93L860.70,412.04L860.80,412.74L861.00,414.63L861.20,417.02L861.40,419.40L861.60,421.77L861.80,424.13L862.00,426.54L862.20,428.53L862.40,430.52L862.60,432.63L862.80,435.10L863.00,437.57L863.20,439.01L863.40,440.17L863.60,441.34L863.80,443.11L864.00,445.09L864.20,447.06L864.40,448.28L864.60,449.51L864.80,450.15L865.00,451.05L865.20,451.96L865.40,452.23L865.50,452.05L865.60,452.05L865.60,526.30ZM872.00,526.30L872.00,450.00L872.10,444.17L872.20,444.25L872.40,444.40L872.60,444.00L872.80,443.41L873.00,442.82L873.20,442.34L873.40,441.87L873.60,441.69L873.80,442.40L874.00,443.11L874.20,443.34L874.40,443.09L874.60,442.84L874.80,442.84L875.00,442.92L875.20,443.00L875.40,442.55L875.60,442.11L875.80,441.59L875.90,441.21L876.00,440.17L876.20,438.07L876.40,436.04L876.60,434.08L876.80,432.12L877.00,430.79L877.20,429.67L877.40,428.55L877.50,427.78L877.60,436.67L877.70,445.57L877.80,452.26L877.90,452.26L877.90,526.30ZM880.20,526.30L880.20,450.80L880.30,444.84L880.40,443.73L880.60,441.53L880.80,439.17L881.00,436.66L881.20,434.15L881.40,431.84L881.50,430.72L881.60,430.91L881.80,431.29L882.00,431.74L882.20,432.19L882.40,432.61L882.60,432.93L882.80,435.01L883.00,436.73L883.20,438.07L883.40,439.41L883.60,441.00L883.70,441.84L883.80,441.62L884.00,441.20L884.20,442.29L884.40,443.37L884.60,444.02L884.80,443.41L885.00,442.79L885.20,442.63L885.40,442.94L885.60,443.24L885.80,442.42L886.00,441.23L886.20,440.04L886.30,440.26L886.40,442.15L886.60,445.94L886.80,449.64L886.90,451.34L887.00,451.34L887.00,526.30ZM890.20,526.30L890.20,453.30L890.30,447.62L890.40,447.13L890.60,446.15L890.80,445.93L891.00,445.72L891.20,445.75L891.40,446.52L891.60,447.29L891.80,447.76L892.00,447.76L892.00,526.30ZM922.80,526.30L922.80,451.40L922.90,449.31L923.00,448.51L923.20,447.72L923.40,447.18L923.60,446.65L923.80,445.84L923.90,445.44L924.00,444.67L924.20,443.19L924.40,441.84L924.60,440.50L924.80,439.46L925.00,438.72L925.20,437.99L925.40,436.57L925.60,434.92L925.80,433.28L926.00,431.71L926.20,430.14L926.40,431.49L926.60,432.84L926.80,434.18L927.00,435.21L927.20,435.93L927.40,436.64L927.60,438.22L927.80,440.09L927.90,441.02L928.00,442.59L928.20,445.30L928.40,448.01L928.60,450.69L928.70,451.97L928.80,451.97L928.80,526.30ZM945.60,526.30L945.60,452.22L945.80,451.95L946.00,451.68L946.20,451.27L946.40,450.34L946.60,449.41L946.80,448.27L947.00,447.26L947.20,446.26L947.40,444.61L947.60,442.75L947.80,440.89L948.00,440.10L948.20,439.32L948.40,438.44L948.50,437.87L948.60,437.68L948.80,437.32L949.00,437.26L949.20,437.52L949.40,437.78L949.60,437.71L949.80,438.58L950.00,439.44L950.20,439.91L950.40,440.38L950.60,438.82L950.80,437.12L951.00,435.41L951.20,434.42L951.40,434.13L951.50,433.99L951.60,434.76L951.80,435.32L952.00,435.54L952.20,435.76L952.40,436.91L952.60,438.06L952.80,438.96L953.00,439.41L953.20,439.86L953.40,440.66L953.60,441.81L953.80,442.95L954.00,443.54L954.10,443.74L954.20,442.94L954.40,441.32L954.60,439.27L954.80,437.22L955.00,435.40L955.20,434.30L955.40,433.61L955.60,433.03L955.80,432.58L956.00,432.13L956.20,430.56L956.30,429.59L956.40,428.87L956.60,427.43L956.80,427.30L957.00,427.17L957.20,427.02L957.40,426.81L957.60,426.59L957.80,426.24L958.00,425.75L958.20,424.73L958.40,423.46L958.60,422.12L958.80,420.77L959.00,418.98L959.20,417.20L959.40,415.60L959.60,414.58L959.80,415.80L960.00,417.31L960.20,419.12L960.40,420.92L960.60,422.31L960.80,423.57L961.00,426.51L961.20,430.26L961.40,434.01L961.50,435.89L961.60,434.03L961.80,429.20L962.00,424.37L962.20,420.62L962.40,417.95L962.60,417.13L962.80,415.61L963.00,413.84L963.20,412.07L963.40,409.48L963.50,408.18L963.60,407.04L963.80,405.10L964.00,404.14L964.20,403.18L964.40,402.25L964.60,401.34L964.70,400.89L964.80,400.17L965.00,398.23L965.20,396.13L965.40,394.03L965.60,392.33L965.80,390.63L966.00,390.39L966.20,390.24L966.40,390.09L966.60,389.56L966.80,388.65L966.90,388.19L967.00,388.45L967.20,389.74L967.40,391.28L967.60,392.82L967.80,393.41L968.00,394.00L968.20,394.71L968.40,392.67L968.60,390.64L968.80,388.80L969.00,387.16L969.20,385.52L969.30,384.48L969.40,386.01L969.60,389.08L969.80,392.15L970.00,396.00L970.20,399.86L970.40,402.08L970.60,404.44L970.80,406.81L971.00,408.59L971.20,409.80L971.30,410.40L971.40,410.41L971.60,410.85L971.80,411.43L972.00,412.00L972.20,413.00L972.40,414.00L972.60,414.80L972.80,415.01L973.00,415.22L973.20,416.03L973.40,417.36L973.60,418.69L973.80,418.87L974.00,418.67L974.20,418.47L974.40,419.98L974.50,420.73L974.60,427.44L974.80,440.57L975.00,444.37L975.20,448.16L975.40,448.50L975.60,449.00L975.80,449.50L976.00,450.86L976.20,452.51L976.30,453.30L976.40,453.30L976.60,453.30L976.80,453.30L976.80,526.30ZM977.23,526.30L977.23,452.02L977.40,452.91L977.53,453.30L977.56,453.30L977.56,526.30ZM977.89,526.30L977.89,452.58L978.00,452.33L978.19,452.45L978.20,453.30L978.22,453.30L978.22,526.30ZM978.55,526.30L978.55,453.02L978.60,453.10L978.80,452.13L978.85,451.88L978.88,451.88L978.88,526.30ZM979.20,526.30L979.20,451.88L979.21,450.69L979.40,451.51L979.51,451.99L979.54,451.99L979.54,526.30ZM979.87,526.30L979.87,452.91L980.00,452.97L980.17,453.06L980.20,453.06L980.20,526.30ZM980.53,526.30L980.53,452.22L980.60,452.00L980.80,451.37L980.83,451.37L981.00,448.98L981.20,446.16L981.40,446.36L981.60,447.34L981.80,448.32L982.00,448.33L982.20,447.36L982.30,446.88L982.40,445.11L982.60,442.08L982.80,439.21L983.00,436.35L983.10,434.99L983.20,434.00L983.40,432.00L983.60,430.13L983.80,428.64L984.00,426.64L984.20,424.39L984.40,421.91L984.60,419.43L984.80,416.94L984.90,415.69L985.00,414.08L985.20,410.87L985.40,408.34L985.60,405.81L985.80,402.91L986.00,398.94L986.10,396.96L986.20,396.47L986.40,396.06L986.60,396.23L986.80,396.39L987.00,396.61L987.20,396.85L987.40,397.08L987.50,396.51L987.60,395.31L987.80,392.91L988.00,390.95L988.20,390.35L988.40,389.75L988.60,388.90L988.80,388.20L989.00,387.50L989.20,385.60L989.40,383.31L989.60,381.02L989.70,380.56L989.80,379.90L990.00,378.57L990.20,377.23L990.40,375.82L990.60,376.57L990.80,377.15L991.00,377.55L991.20,377.96L991.40,379.30L991.50,380.12L991.60,379.80L991.80,379.16L992.00,376.69L992.20,374.21L992.40,372.19L992.60,371.44L992.80,370.69L993.00,369.66L993.20,368.35L993.40,367.04L993.60,364.52L993.70,363.06L993.80,361.92L994.00,359.64L994.20,359.11L994.40,358.58L994.60,357.75L994.80,356.06L995.00,354.37L995.20,353.53L995.40,353.56L995.60,353.59L995.80,345.40L996.00,336.80L996.20,332.64L996.40,329.29L996.60,325.93L996.80,322.56L997.00,319.14L997.10,317.43L997.20,319.09L997.40,322.43L997.60,325.81L997.80,329.19L998.00,332.15L998.20,334.98L998.40,336.70L998.60,338.92L998.80,341.15L999.00,343.28L999.20,345.14L999.40,337.83L999.60,330.77L999.80,323.96L1000.00,317.14L1000.20,309.74L1000.40,306.17L1000.60,302.59L1000.80,300.03L1001.00,297.46L1001.20,294.58L1001.40,290.72L1001.60,286.86L1001.80,283.69L1001.90,282.45L1002.00,284.52L1002.20,288.65L1002.40,293.07L1002.60,297.59L1002.80,302.11L1003.00,301.61L1003.20,301.11L1003.40,300.66L1003.60,300.36L1003.80,300.06L1004.00,300.33L1004.20,301.17L1004.40,302.01L1004.50,302.16L1004.60,302.13L1004.80,302.07L1005.00,302.00L1005.20,302.16L1005.40,302.32L1005.60,302.63L1005.80,303.43L1005.90,303.82L1006.00,310.01L1006.20,322.48L1006.40,335.07L1006.60,339.56L1006.80,343.50L1007.00,347.26L1007.20,343.78L1007.40,340.24L1007.60,336.71L1007.70,334.94L1007.80,327.31L1008.00,311.98L1008.20,296.65L1008.30,288.98L1008.40,286.62L1008.60,281.89L1008.80,277.16L1009.00,273.21L1009.20,269.51L1009.40,265.82L1009.50,263.26L1009.60,259.04L1009.80,250.60L1010.00,250.60L1010.00,526.30ZM1017.00,526.30L1017.00,312.66L1017.10,379.17L1017.20,380.53L1017.40,383.25L1017.60,385.97L1017.80,387.99L1018.00,389.60L1018.20,391.21L1018.40,394.40L1018.60,397.59L1018.80,400.69L1019.00,403.53L1019.20,406.37L1019.30,407.79L1019.30,526.30Z"/>
<path fill="rgba(255,78,2,0.80)" d="M295.10,526.30L295.10,246.00L295.20,238.91L295.40,224.73L295.60,210.55L295.80,196.36L296.00,182.18L296.20,168.00L296.40,156.86L296.60,145.71L296.80,134.57L296.90,129.00L297.00,126.63L297.20,121.89L297.40,117.14L297.60,112.40L297.80,107.66L298.00,102.91L298.20,98.17L298.30,95.80L298.40,97.32L298.60,100.35L298.80,103.39L299.00,106.43L299.20,109.46L299.40,112.50L299.60,115.54L299.80,118.57L300.00,121.61L300.20,124.65L300.40,127.68L300.50,129.20L300.60,133.51L300.80,142.13L301.00,150.76L301.20,159.38L301.40,168.00L301.60,207.00L301.80,246.00L302.00,246.00L302.00,526.30ZM336.40,526.30L336.40,246.00L336.60,242.50L336.80,239.00L337.00,235.50L337.20,232.00L337.40,228.50L337.60,225.00L337.80,213.60L338.00,202.20L338.20,190.80L338.40,179.40L338.60,168.00L338.80,158.84L339.00,149.67L339.20,140.51L339.40,131.35L339.60,122.18L339.70,117.60L339.80,119.43L340.00,123.08L340.20,126.73L340.40,130.39L340.60,134.04L340.80,137.69L341.00,141.35L341.20,145.00L341.40,148.29L341.60,151.57L341.80,154.86L342.00,158.14L342.20,161.43L342.40,164.71L342.60,168.00L342.80,178.40L343.00,188.80L343.20,199.20L343.40,209.60L343.60,220.00L343.80,230.40L344.00,240.80L344.10,246.00L344.20,246.00L344.20,526.30ZM569.70,526.30L569.70,246.00L569.80,241.00L570.00,231.00L570.20,221.00L570.40,211.00L570.60,201.00L570.80,191.00L571.00,197.88L571.20,204.75L571.40,211.63L571.60,218.50L571.80,225.37L572.00,232.25L572.20,239.13L572.40,246.00L572.60,246.00L572.60,526.30ZM578.40,526.30L578.40,246.00L578.60,240.67L578.80,235.33L579.00,230.00L579.20,215.71L579.40,201.43L579.60,187.14L579.70,180.00L579.80,177.69L580.00,173.08L580.20,168.46L580.40,163.85L580.60,159.23L580.80,154.62L581.00,150.00L581.20,145.08L581.40,140.15L581.60,135.23L581.80,130.31L582.00,125.38L582.20,120.46L582.30,118.00L582.40,122.57L582.60,131.71L582.80,140.86L583.00,150.00L583.20,160.00L583.40,170.00L583.60,180.00L583.80,190.00L584.00,204.00L584.20,218.00L584.40,232.00L584.60,246.00L584.80,246.00L584.80,526.30ZM601.40,526.30L601.40,246.00L601.60,235.67L601.80,225.33L602.00,215.00L602.20,213.67L602.40,212.33L602.60,211.00L602.80,209.67L603.00,208.33L603.20,207.00L603.40,205.67L603.50,205.00L603.60,204.20L603.80,202.60L604.00,201.00L604.20,199.40L604.40,197.80L604.50,197.00L604.60,198.00L604.80,200.00L605.00,202.00L605.20,204.00L605.40,206.00L605.50,207.00L605.60,207.10L605.80,207.30L606.00,207.50L606.20,207.70L606.40,207.90L606.50,208.00L606.60,210.13L606.80,214.37L607.00,218.63L607.20,222.88L607.30,225.00L607.40,228.00L607.60,234.00L607.80,240.00L608.00,246.00L608.20,246.00L608.20,526.30ZM799.60,526.30L799.60,246.00L799.80,243.56L800.00,241.11L800.20,238.67L800.40,236.22L800.50,235.00L800.60,232.52L800.80,227.55L801.00,222.58L801.20,217.62L801.40,212.65L801.60,207.68L801.80,202.72L802.00,197.75L802.20,192.78L802.30,190.30L802.40,187.11L802.60,180.74L802.80,174.37L803.00,168.00L803.20,161.04L803.40,154.08L803.60,147.12L803.80,140.16L804.00,133.20L804.20,126.24L804.40,119.28L804.50,115.80L804.60,118.07L804.80,122.61L805.00,127.15L805.20,131.69L805.40,136.23L805.60,140.77L805.80,145.30L806.00,149.84L806.20,154.38L806.40,158.92L806.60,163.46L806.80,168.00L807.00,179.00L807.20,190.00L807.40,200.18L807.60,210.36L807.80,220.55L808.00,230.73L808.20,240.91L808.30,246.00L808.40,246.00L808.40,526.30ZM1010.00,526.30L1010.00,246.00L1010.20,243.56L1010.40,241.11L1010.60,238.67L1010.80,236.22L1010.90,235.00L1011.00,230.91L1011.20,222.73L1011.40,214.55L1011.60,206.36L1011.80,198.18L1012.00,190.00L1012.20,185.11L1012.40,180.22L1012.60,175.33L1012.80,170.44L1012.90,168.00L1013.00,162.58L1013.20,151.73L1013.40,140.89L1013.60,130.04L1013.80,119.20L1014.00,126.71L1014.20,134.22L1014.40,141.72L1014.60,149.23L1014.80,156.74L1015.00,164.25L1015.10,168.00L1015.20,171.14L1015.40,177.43L1015.60,183.71L1015.80,190.00L1016.00,202.86L1016.20,215.71L1016.40,228.57L1016.50,235.00L1016.60,237.75L1016.80,243.25L1016.90,246.00L1017.00,246.00L1017.00,526.30Z"/>
<g stroke="#7b7d86" stroke-width="1" fill="none">
<line x1="117.50" y1="526.40" x2="1019.90" y2="526.40"/>
<line x1="118.00" y1="526.30" x2="118.00" y2="529.10"/>
<line x1="176.68" y1="526.30" x2="176.68" y2="529.10"/>
<line x1="235.36" y1="526.30" x2="235.36" y2="529.10"/>
<line x1="294.04" y1="526.30" x2="294.04" y2="529.10"/>
<line x1="352.72" y1="526.30" x2="352.72" y2="529.10"/>
<line x1="411.40" y1="526.30" x2="411.40" y2="529.10"/>
<line x1="470.08" y1="526.30" x2="470.08" y2="529.10"/>
<line x1="528.76" y1="526.30" x2="528.76" y2="529.10"/>
<line x1="587.44" y1="526.30" x2="587.44" y2="529.10"/>
<line x1="646.12" y1="526.30" x2="646.12" y2="529.10"/>
<line x1="704.80" y1="526.30" x2="704.80" y2="529.10"/>
<line x1="763.48" y1="526.30" x2="763.48" y2="529.10"/>
<line x1="822.16" y1="526.30" x2="822.16" y2="529.10"/>
<line x1="880.84" y1="526.30" x2="880.84" y2="529.10"/>
<line x1="939.52" y1="526.30" x2="939.52" y2="529.10"/>
<line x1="998.20" y1="526.30" x2="998.20" y2="529.10"/>
<line x1="1019.40" y1="526.30" x2="1019.40" y2="529.10"/>
</g>
<g fill="#6e7079" font-size="8.2" text-anchor="middle">
<text x="118.00" y="537.3" textLength="42.7" lengthAdjust="spacingAndGlyphs">2010–07–17</text>
<text x="176.68" y="537.3" textLength="41.2" lengthAdjust="spacingAndGlyphs">2011–06–10</text>
<text x="235.36" y="537.3" textLength="44.1" lengthAdjust="spacingAndGlyphs">2012–05–03</text>
<text x="294.04" y="537.3" textLength="44.1" lengthAdjust="spacingAndGlyphs">2013–03–27</text>
<text x="352.72" y="537.3" textLength="42.7" lengthAdjust="spacingAndGlyphs">2014–02–18</text>
<text x="411.40" y="537.3" textLength="41.2" lengthAdjust="spacingAndGlyphs">2015–01–12</text>
<text x="470.08" y="537.3" textLength="42.7" lengthAdjust="spacingAndGlyphs">2015–12–06</text>
<text x="528.76" y="537.3" textLength="42.7" lengthAdjust="spacingAndGlyphs">2016–10–29</text>
<text x="587.44" y="537.3" textLength="44.1" lengthAdjust="spacingAndGlyphs">2017–09–22</text>
<text x="646.12" y="537.3" textLength="42.7" lengthAdjust="spacingAndGlyphs">2018–08–16</text>
<text x="704.80" y="537.3" textLength="42.7" lengthAdjust="spacingAndGlyphs">2019–07–10</text>
<text x="763.48" y="537.3" textLength="45.6" lengthAdjust="spacingAndGlyphs">2020–06–02</text>
<text x="822.16" y="537.3" textLength="44.1" lengthAdjust="spacingAndGlyphs">2021–04–26</text>
<text x="880.84" y="537.3" textLength="45.6" lengthAdjust="spacingAndGlyphs">2022–03–20</text>
<text x="939.52" y="537.3" textLength="42.7" lengthAdjust="spacingAndGlyphs">2023–02–11</text>
<text x="998.20" y="537.3" textLength="44.1" lengthAdjust="spacingAndGlyphs">2024–01–05</text>
</g>
<g fill="#6e7079" font-size="8.3" text-anchor="end">
<text x="112.9" y="46.50" textLength="17.8" lengthAdjust="spacingAndGlyphs">100K</text>
<text x="112.9" y="126.90" textLength="13.8" lengthAdjust="spacingAndGlyphs">10K</text>
<text x="112.9" y="207.30" textLength="9.6" lengthAdjust="spacingAndGlyphs">1K</text>
<text x="112.9" y="287.70" textLength="15.7" lengthAdjust="spacingAndGlyphs">0.1K</text>
<text x="112.9" y="368.10" textLength="19.7" lengthAdjust="spacingAndGlyphs">0.01K</text>
<text x="112.9" y="448.50" textLength="23.7" lengthAdjust="spacingAndGlyphs">0.001K</text>
<text x="112.9" y="528.90" textLength="27.8" lengthAdjust="spacingAndGlyphs">0.0001K</text>
</g>
<g fill="#6e7079" font-size="8.6" text-anchor="start">
<text x="1023.9" y="46.50">5</text>
<text x="1023.9" y="142.98">4</text>
<text x="1023.9" y="239.46">3</text>
<text x="1023.9" y="335.94">2</text>
<text x="1023.9" y="432.42">1</text>
<text x="1023.9" y="528.90">0</text>
</g>
<text x="117.5" y="32.9" font-size="7.7" fill="#6e7079" text-anchor="middle">Price($)</text>
<text x="1050.6" y="528.6" font-size="8.0" textLength="17.2" lengthAdjust="spacingAndGlyphs" fill="#6e7079">Time</text>
<text x="8.4" y="19.3" font-size="11.4" font-weight="bold" fill="#4b4b4b" textLength="207.8" lengthAdjust="spacingAndGlyphs">Bitcoin: Value Days Destroyed Multiple</text>
<rect x="415.3" y="62.6" width="378.4" height="15" fill="none" stroke="#d9d9d9" stroke-width="0.8"/>
<line x1="419.4" y1="70" x2="435.3" y2="70" stroke="#222" stroke-width="1.4"/>
<circle cx="427.4" cy="70" r="3" fill="#fff" stroke="#222" stroke-width="1.3"/>
<g fill="#444" font-size="7.6">
<text x="438.3" y="72.5" textLength="38.7" lengthAdjust="spacingAndGlyphs">Price[USD]</text>
<text x="501.5" y="72.5" textLength="92" lengthAdjust="spacingAndGlyphs">Low VDD Multiple (&lt; 0.75)</text>
<text x="618.7" y="72.5" textLength="87.6" lengthAdjust="spacingAndGlyphs">Mid VDD (&gt; 0.75, &lt;= 2.9)</text>
<text x="731.4" y="72.5" textLength="59" lengthAdjust="spacingAndGlyphs">High VDD (&gt; 2.9)</text>
</g>
<rect x="482.5" y="66.2" width="15.7" height="7.8" rx="1.6" fill="#d6eeda"/>
<rect x="599.6" y="66.2" width="15.7" height="7.8" rx="1.6" fill="#fde2a6"/>
<rect x="712.6" y="66.2" width="15.7" height="7.8" rx="1.6" fill="#fdb9a3"/>
<rect x="119.20" y="546.40" width="901.40" height="18.20" fill="#e7edfc"/>
<path d="M119.20,561.20L120.70,561.20L122.20,561.20L123.70,561.20L125.20,561.20L126.70,561.20L128.20,561.20L129.70,561.20L131.20,561.20L132.70,561.20L134.20,561.20L135.70,561.20L137.20,561.20L138.70,561.20L140.20,561.20L141.70,561.20L143.20,561.20L144.70,561.20L146.20,561.20L147.70,561.20L149.20,561.20L150.70,561.20L152.20,561.20L153.70,561.20L155.20,561.20L156.70,561.20L158.20,561.20L159.70,561.20L161.20,561.20L162.70,561.20L164.20,561.20L165.70,561.20L167.20,561.20L168.70,561.20L170.20,561.20L171.70,561.20L173.20,561.20L174.70,561.20L176.20,561.20L177.70,561.20L179.20,561.20L180.70,561.20L182.20,561.20L183.70,561.20L185.20,561.20L186.70,561.20L188.20,561.20L189.70,561.20L191.20,561.20L192.70,561.20L194.20,561.20L195.70,561.20L197.20,561.20L198.70,561.20L200.20,561.20L201.70,561.20L203.20,561.20L204.70,561.20L206.20,561.20L207.70,561.20L209.20,561.20L210.70,561.20L212.20,561.20L213.70,561.20L215.20,561.20L216.70,561.20L218.20,561.20L219.70,561.20L221.20,561.20L222.70,561.20L224.20,561.20L225.70,561.20L227.20,561.20L228.70,561.20L230.20,561.20L231.70,561.20L233.20,561.20L234.70,561.20L236.20,561.20L237.70,561.20L239.20,561.20L240.70,561.20L242.20,561.20L243.70,561.20L245.20,561.20L246.70,561.20L248.20,561.20L249.70,561.20L251.20,561.20L252.70,561.20L254.20,561.20L255.70,561.20L257.20,561.20L258.70,561.20L260.20,561.20L261.70,561.20L263.20,561.20L264.70,561.20L266.20,561.20L267.70,561.20L269.20,561.20L270.70,561.20L272.20,561.20L273.70,561.20L275.20,561.20L276.70,561.20L278.20,561.20L279.70,561.20L281.20,561.20L282.70,561.20L284.20,561.20L285.70,561.20L287.20,561.20L288.70,561.20L290.20,561.19L291.70,561.19L293.20,561.19L294.70,561.19L296.20,561.18L297.70,561.17L299.20,561.19L300.70,561.18L302.20,561.18L303.70,561.18L305.20,561.18L306.70,561.18L308.20,561.18L309.70,561.18L311.20,561.19L312.70,561.19L314.20,561.19L315.70,561.19L317.20,561.19L318.70,561.19L320.20,561.18L321.70,561.18L323.20,561.18L324.70,561.18L326.20,561.18L327.70,561.18L329.20,561.18L330.70,561.18L332.20,561.17L333.70,561.17L335.20,561.15L336.70,561.13L338.20,561.07L339.70,561.03L341.20,561.09L342.70,561.12L344.20,561.09L345.70,561.07L347.20,561.07L348.70,561.08L350.20,561.08L351.70,561.08L353.20,561.10L354.70,561.11L356.20,561.11L357.70,561.10L359.20,561.11L360.70,561.13L362.20,561.14L363.70,561.13L365.20,561.13L366.70,561.13L368.20,561.13L369.70,561.13L371.20,561.11L372.70,561.10L374.20,561.11L375.70,561.11L377.20,561.11L378.70,561.11L380.20,561.11L381.70,561.11L383.20,561.11L384.70,561.12L386.20,561.12L387.70,561.12L389.20,561.13L390.70,561.13L392.20,561.14L393.70,561.14L395.20,561.15L396.70,561.15L398.20,561.15L399.70,561.15L401.20,561.14L402.70,561.14L404.20,561.14L405.70,561.14L407.20,561.15L408.70,561.15L410.20,561.15L411.70,561.16L413.20,561.17L414.70,561.16L416.20,561.17L417.70,561.16L419.20,561.16L420.70,561.16L422.20,561.16L423.70,561.16L425.20,561.16L426.70,561.16L428.20,561.16L429.70,561.17L431.20,561.17L432.70,561.16L434.20,561.16L435.70,561.16L437.20,561.17L438.70,561.17L440.20,561.16L441.70,561.16L443.20,561.16L444.70,561.16L446.20,561.16L447.70,561.16L449.20,561.16L450.70,561.16L452.20,561.17L453.70,561.17L455.20,561.16L456.70,561.16L458.20,561.16L459.70,561.16L461.20,561.16L462.70,561.16L464.20,561.15L465.70,561.14L467.20,561.15L468.70,561.15L470.20,561.14L471.70,561.13L473.20,561.13L474.70,561.13L476.20,561.13L477.70,561.14L479.20,561.14L480.70,561.14L482.20,561.14L483.70,561.14L485.20,561.14L486.70,561.14L488.20,561.14L489.70,561.14L491.20,561.14L492.70,561.13L494.20,561.13L495.70,561.13L497.20,561.13L498.70,561.13L500.20,561.13L501.70,561.13L503.20,561.12L504.70,561.10L506.20,561.09L507.70,561.10L509.20,561.10L510.70,561.10L512.20,561.10L513.70,561.11L515.20,561.12L516.70,561.11L518.20,561.11L519.70,561.11L521.20,561.11L522.70,561.11L524.20,561.11L525.70,561.10L527.20,561.10L528.70,561.10L530.20,561.09L531.70,561.09L533.20,561.09L534.70,561.09L536.20,561.08L537.70,561.08L539.20,561.08L540.70,561.05L542.20,561.06L543.70,561.08L545.20,561.06L546.70,561.05L548.20,561.05L549.70,561.04L551.20,561.02L552.70,561.01L554.20,561.03L555.70,561.05L557.20,561.04L558.70,561.02L560.20,561.01L561.70,561.00L563.20,560.97L564.70,560.93L566.20,560.88L567.70,560.83L569.20,560.78L570.70,560.78L572.20,560.81L573.70,560.82L575.20,560.84L576.70,560.89L578.20,560.77L579.70,560.69L581.20,560.60L582.70,560.53L584.20,560.52L585.70,560.58L587.20,560.68L588.70,560.63L590.20,560.52L591.70,560.40L593.20,560.32L594.70,560.28L596.20,560.11L597.70,560.25L599.20,560.03L600.70,559.61L602.20,559.01L603.70,558.35L605.20,559.02L606.70,558.78L608.20,559.10L609.70,559.40L611.20,559.55L612.70,559.99L614.20,559.75L615.70,559.52L617.20,559.55L618.70,559.78L620.20,559.94L621.70,560.06L623.20,560.16L624.70,559.98L626.20,559.78L627.70,559.77L629.20,559.77L630.70,559.90L632.20,560.02L633.70,560.09L635.20,560.15L636.70,560.22L638.20,560.28L639.70,560.24L641.20,560.18L642.70,560.01L644.20,560.04L645.70,560.19L647.20,560.20L648.70,560.16L650.20,560.19L651.70,560.22L653.20,560.22L654.70,560.21L656.20,560.21L657.70,560.21L659.20,560.23L660.70,560.24L662.20,560.25L663.70,560.38L665.20,560.55L666.70,560.63L668.20,560.68L669.70,560.63L671.20,560.60L672.70,560.62L674.20,560.64L675.70,560.66L677.20,560.67L678.70,560.66L680.20,560.63L681.70,560.60L683.20,560.59L684.70,560.58L686.20,560.58L687.70,560.53L689.20,560.41L690.70,560.39L692.20,560.37L693.70,560.31L695.20,560.19L696.70,560.00L698.20,559.93L699.70,559.87L701.20,559.82L702.70,559.50L704.20,559.39L705.70,559.60L707.20,559.58L708.70,559.49L710.20,559.60L711.70,559.66L713.20,559.63L714.70,559.63L716.20,559.65L717.70,559.71L719.20,559.86L720.70,559.95L722.20,559.98L723.70,560.01L725.20,559.91L726.70,559.83L728.20,559.88L729.70,559.99L731.20,560.09L732.70,560.12L734.20,560.14L735.70,560.14L737.20,560.08L738.70,560.00L740.20,559.90L741.70,559.82L743.20,559.76L744.70,559.69L746.20,559.74L747.70,559.83L749.20,560.22L750.70,560.39L752.20,560.27L753.70,560.18L755.20,560.16L756.70,560.13L758.20,559.98L759.70,559.84L761.20,559.79L762.70,559.75L764.20,559.72L765.70,559.74L767.20,559.78L768.70,559.81L770.20,559.81L771.70,559.81L773.20,559.69L774.70,559.53L776.20,559.45L777.70,559.42L779.20,559.44L780.70,559.54L782.20,559.62L783.70,559.62L785.20,559.62L786.70,559.56L788.20,559.49L789.70,559.33L791.20,559.10L792.70,558.87L794.20,558.66L795.70,558.46L797.20,558.36L798.70,558.17L800.20,557.82L801.70,557.02L803.20,555.53L804.70,555.43L806.20,556.13L807.70,555.96L809.20,554.70L810.70,553.28L812.20,553.41L813.70,553.56L815.20,552.09L816.70,552.38L818.20,552.58L819.70,552.21L821.20,551.83L822.70,552.79L824.20,553.01L825.70,553.25L827.20,555.01L828.70,555.84L830.20,555.35L831.70,555.56L833.20,556.09L834.70,556.17L836.20,556.08L837.70,556.44L839.20,556.14L840.70,555.04L842.20,554.51L843.70,554.05L845.20,553.83L846.70,553.72L848.20,553.94L849.70,554.56L851.20,554.65L852.70,553.22L854.20,552.24L855.70,551.45L857.20,551.26L858.70,551.43L860.20,552.25L861.70,552.90L863.20,553.48L864.70,553.80L866.20,554.01L867.70,554.31L869.20,554.76L870.70,555.32L872.20,555.82L873.70,555.13L875.20,554.96L876.70,555.28L878.20,555.24L879.70,555.07L881.20,554.81L882.70,554.42L884.20,554.26L885.70,554.74L887.20,555.08L888.70,555.27L890.20,555.88L891.70,556.68L893.20,556.68L894.70,556.68L896.20,556.98L897.70,557.76L899.20,558.26L900.70,558.18L902.20,558.03L903.70,557.74L905.20,557.66L906.70,557.60L908.20,557.78L909.70,558.03L911.20,558.12L912.70,558.21L914.20,558.25L915.70,558.29L917.20,558.28L918.70,558.24L920.20,558.19L921.70,558.14L923.20,558.48L924.70,558.72L926.20,558.68L927.70,558.65L929.20,558.61L930.70,558.58L932.20,558.61L933.70,558.65L935.20,558.33L936.70,557.93L938.20,557.64L939.70,557.58L941.20,557.58L942.70,557.70L944.20,557.90L945.70,557.81L947.20,557.07L948.70,556.91L950.20,556.84L951.70,556.82L953.20,556.82L954.70,556.87L956.20,557.00L957.70,557.11L959.20,557.20L960.70,557.28L962.20,557.34L963.70,557.12L965.20,556.59L966.70,556.56L968.20,556.57L969.70,556.76L971.20,556.79L972.70,556.82L974.20,557.08L975.70,557.20L977.20,557.27L978.70,557.31L980.20,557.19L981.70,557.09L983.20,557.05L984.70,556.84L986.20,556.13L987.70,555.90L989.20,555.73L990.70,555.63L992.20,555.43L993.70,554.84L995.20,554.87L996.70,554.74L998.20,554.60L999.70,554.25L1001.20,554.84L1002.70,555.17L1004.20,554.88L1005.70,554.22L1007.20,553.45L1008.70,553.11L1010.20,551.18L1011.70,550.59L1013.20,551.29L1014.70,550.66L1016.20,550.79L1017.70,551.72L1019.20,551.45L1019.20,564.60L119.20,564.60Z" fill="#d6e1fa"/>
<path d="M119.20,561.20L120.70,561.20L122.20,561.20L123.70,561.20L125.20,561.20L126.70,561.20L128.20,561.20L129.70,561.20L131.20,561.20L132.70,561.20L134.20,561.20L135.70,561.20L137.20,561.20L138.70,561.20L140.20,561.20L141.70,561.20L143.20,561.20L144.70,561.20L146.20,561.20L147.70,561.20L149.20,561.20L150.70,561.20L152.20,561.20L153.70,561.20L155.20,561.20L156.70,561.20L158.20,561.20L159.70,561.20L161.20,561.20L162.70,561.20L164.20,561.20L165.70,561.20L167.20,561.20L168.70,561.20L170.20,561.20L171.70,561.20L173.20,561.20L174.70,561.20L176.20,561.20L177.70,561.20L179.20,561.20L180.70,561.20L182.20,561.20L183.70,561.20L185.20,561.20L186.70,561.20L188.20,561.20L189.70,561.20L191.20,561.20L192.70,561.20L194.20,561.20L195.70,561.20L197.20,561.20L198.70,561.20L200.20,561.20L201.70,561.20L203.20,561.20L204.70,561.20L206.20,561.20L207.70,561.20L209.20,561.20L210.70,561.20L212.20,561.20L213.70,561.20L215.20,561.20L216.70,561.20L218.20,561.20L219.70,561.20L221.20,561.20L222.70,561.20L224.20,561.20L225.70,561.20L227.20,561.20L228.70,561.20L230.20,561.20L231.70,561.20L233.20,561.20L234.70,561.20L236.20,561.20L237.70,561.20L239.20,561.20L240.70,561.20L242.20,561.20L243.70,561.20L245.20,561.20L246.70,561.20L248.20,561.20L249.70,561.20L251.20,561.20L252.70,561.20L254.20,561.20L255.70,561.20L257.20,561.20L258.70,561.20L260.20,561.20L261.70,561.20L263.20,561.20L264.70,561.20L266.20,561.20L267.70,561.20L269.20,561.20L270.70,561.20L272.20,561.20L273.70,561.20L275.20,561.20L276.70,561.20L278.20,561.20L279.70,561.20L281.20,561.20L282.70,561.20L284.20,561.20L285.70,561.20L287.20,561.20L288.70,561.20L290.20,561.19L291.70,561.19L293.20,561.19L294.70,561.19L296.20,561.18L297.70,561.17L299.20,561.19L300.70,561.18L302.20,561.18L303.70,561.18L305.20,561.18L306.70,561.18L308.20,561.18L309.70,561.18L311.20,561.19L312.70,561.19L314.20,561.19L315.70,561.19L317.20,561.19L318.70,561.19L320.20,561.18L321.70,561.18L323.20,561.18L324.70,561.18L326.20,561.18L327.70,561.18L329.20,561.18L330.70,561.18L332.20,561.17L333.70,561.17L335.20,561.15L336.70,561.13L338.20,561.07L339.70,561.03L341.20,561.09L342.70,561.12L344.20,561.09L345.70,561.07L347.20,561.07L348.70,561.08L350.20,561.08L351.70,561.08L353.20,561.10L354.70,561.11L356.20,561.11L357.70,561.10L359.20,561.11L360.70,561.13L362.20,561.14L363.70,561.13L365.20,561.13L366.70,561.13L368.20,561.13L369.70,561.13L371.20,561.11L372.70,561.10L374.20,561.11L375.70,561.11L377.20,561.11L378.70,561.11L380.20,561.11L381.70,561.11L383.20,561.11L384.70,561.12L386.20,561.12L387.70,561.12L389.20,561.13L390.70,561.13L392.20,561.14L393.70,561.14L395.20,561.15L396.70,561.15L398.20,561.15L399.70,561.15L401.20,561.14L402.70,561.14L404.20,561.14L405.70,561.14L407.20,561.15L408.70,561.15L410.20,561.15L411.70,561.16L413.20,561.17L414.70,561.16L416.20,561.17L417.70,561.16L419.20,561.16L420.70,561.16L422.20,561.16L423.70,561.16L425.20,561.16L426.70,561.16L428.20,561.16L429.70,561.17L431.20,561.17L432.70,561.16L434.20,561.16L435.70,561.16L437.20,561.17L438.70,561.17L440.20,561.16L441.70,561.16L443.20,561.16L444.70,561.16L446.20,561.16L447.70,561.16L449.20,561.16L450.70,561.16L452.20,561.17L453.70,561.17L455.20,561.16L456.70,561.16L458.20,561.16L459.70,561.16L461.20,561.16L462.70,561.16L464.20,561.15L465.70,561.14L467.20,561.15L468.70,561.15L470.20,561.14L471.70,561.13L473.20,561.13L474.70,561.13L476.20,561.13L477.70,561.14L479.20,561.14L480.70,561.14L482.20,561.14L483.70,561.14L485.20,561.14L486.70,561.14L488.20,561.14L489.70,561.14L491.20,561.14L492.70,561.13L494.20,561.13L495.70,561.13L497.20,561.13L498.70,561.13L500.20,561.13L501.70,561.13L503.20,561.12L504.70,561.10L506.20,561.09L507.70,561.10L509.20,561.10L510.70,561.10L512.20,561.10L513.70,561.11L515.20,561.12L516.70,561.11L518.20,561.11L519.70,561.11L521.20,561.11L522.70,561.11L524.20,561.11L525.70,561.10L527.20,561.10L528.70,561.10L530.20,561.09L531.70,561.09L533.20,561.09L534.70,561.09L536.20,561.08L537.70,561.08L539.20,561.08L540.70,561.05L542.20,561.06L543.70,561.08L545.20,561.06L546.70,561.05L548.20,561.05L549.70,561.04L551.20,561.02L552.70,561.01L554.20,561.03L555.70,561.05L557.20,561.04L558.70,561.02L560.20,561.01L561.70,561.00L563.20,560.97L564.70,560.93L566.20,560.88L567.70,560.83L569.20,560.78L570.70,560.78L572.20,560.81L573.70,560.82L575.20,560.84L576.70,560.89L578.20,560.77L579.70,560.69L581.20,560.60L582.70,560.53L584.20,560.52L585.70,560.58L587.20,560.68L588.70,560.63L590.20,560.52L591.70,560.40L593.20,560.32L594.70,560.28L596.20,560.11L597.70,560.25L599.20,560.03L600.70,559.61L602.20,559.01L603.70,558.35L605.20,559.02L606.70,558.78L608.20,559.10L609.70,559.40L611.20,559.55L612.70,559.99L614.20,559.75L615.70,559.52L617.20,559.55L618.70,559.78L620.20,559.94L621.70,560.06L623.20,560.16L624.70,559.98L626.20,559.78L627.70,559.77L629.20,559.77L630.70,559.90L632.20,560.02L633.70,560.09L635.20,560.15L636.70,560.22L638.20,560.28L639.70,560.24L641.20,560.18L642.70,560.01L644.20,560.04L645.70,560.19L647.20,560.20L648.70,560.16L650.20,560.19L651.70,560.22L653.20,560.22L654.70,560.21L656.20,560.21L657.70,560.21L659.20,560.23L660.70,560.24L662.20,560.25L663.70,560.38L665.20,560.55L666.70,560.63L668.20,560.68L669.70,560.63L671.20,560.60L672.70,560.62L674.20,560.64L675.70,560.66L677.20,560.67L678.70,560.66L680.20,560.63L681.70,560.60L683.20,560.59L684.70,560.58L686.20,560.58L687.70,560.53L689.20,560.41L690.70,560.39L692.20,560.37L693.70,560.31L695.20,560.19L696.70,560.00L698.20,559.93L699.70,559.87L701.20,559.82L702.70,559.50L704.20,559.39L705.70,559.60L707.20,559.58L708.70,559.49L710.20,559.60L711.70,559.66L713.20,559.63L714.70,559.63L716.20,559.65L717.70,559.71L719.20,559.86L720.70,559.95L722.20,559.98L723.70,560.01L725.20,559.91L726.70,559.83L728.20,559.88L729.70,559.99L731.20,560.09L732.70,560.12L734.20,560.14L735.70,560.14L737.20,560.08L738.70,560.00L740.20,559.90L741.70,559.82L743.20,559.76L744.70,559.69L746.20,559.74L747.70,559.83L749.20,560.22L750.70,560.39L752.20,560.27L753.70,560.18L755.20,560.16L756.70,560.13L758.20,559.98L759.70,559.84L761.20,559.79L762.70,559.75L764.20,559.72L765.70,559.74L767.20,559.78L768.70,559.81L770.20,559.81L771.70,559.81L773.20,559.69L774.70,559.53L776.20,559.45L777.70,559.42L779.20,559.44L780.70,559.54L782.20,559.62L783.70,559.62L785.20,559.62L786.70,559.56L788.20,559.49L789.70,559.33L791.20,559.10L792.70,558.87L794.20,558.66L795.70,558.46L797.20,558.36L798.70,558.17L800.20,557.82L801.70,557.02L803.20,555.53L804.70,555.43L806.20,556.13L807.70,555.96L809.20,554.70L810.70,553.28L812.20,553.41L813.70,553.56L815.20,552.09L816.70,552.38L818.20,552.58L819.70,552.21L821.20,551.83L822.70,552.79L824.20,553.01L825.70,553.25L827.20,555.01L828.70,555.84L830.20,555.35L831.70,555.56L833.20,556.09L834.70,556.17L836.20,556.08L837.70,556.44L839.20,556.14L840.70,555.04L842.20,554.51L843.70,554.05L845.20,553.83L846.70,553.72L848.20,553.94L849.70,554.56L851.20,554.65L852.70,553.22L854.20,552.24L855.70,551.45L857.20,551.26L858.70,551.43L860.20,552.25L861.70,552.90L863.20,553.48L864.70,553.80L866.20,554.01L867.70,554.31L869.20,554.76L870.70,555.32L872.20,555.82L873.70,555.13L875.20,554.96L876.70,555.28L878.20,555.24L879.70,555.07L881.20,554.81L882.70,554.42L884.20,554.26L885.70,554.74L887.20,555.08L888.70,555.27L890.20,555.88L891.70,556.68L893.20,556.68L894.70,556.68L896.20,556.98L897.70,557.76L899.20,558.26L900.70,558.18L902.20,558.03L903.70,557.74L905.20,557.66L906.70,557.60L908.20,557.78L909.70,558.03L911.20,558.12L912.70,558.21L914.20,558.25L915.70,558.29L917.20,558.28L918.70,558.24L920.20,558.19L921.70,558.14L923.20,558.48L924.70,558.72L926.20,558.68L927.70,558.65L929.20,558.61L930.70,558.58L932.20,558.61L933.70,558.65L935.20,558.33L936.70,557.93L938.20,557.64L939.70,557.58L941.20,557.58L942.70,557.70L944.20,557.90L945.70,557.81L947.20,557.07L948.70,556.91L950.20,556.84L951.70,556.82L953.20,556.82L954.70,556.87L956.20,557.00L957.70,557.11L959.20,557.20L960.70,557.28L962.20,557.34L963.70,557.12L965.20,556.59L966.70,556.56L968.20,556.57L969.70,556.76L971.20,556.79L972.70,556.82L974.20,557.08L975.70,557.20L977.20,557.27L978.70,557.31L980.20,557.19L981.70,557.09L983.20,557.05L984.70,556.84L986.20,556.13L987.70,555.90L989.20,555.73L990.70,555.63L992.20,555.43L993.70,554.84L995.20,554.87L996.70,554.74L998.20,554.60L999.70,554.25L1001.20,554.84L1002.70,555.17L1004.20,554.88L1005.70,554.22L1007.20,553.45L1008.70,553.11L1010.20,551.18L1011.70,550.59L1013.20,551.29L1014.70,550.66L1016.20,550.79L1017.70,551.72L1019.20,551.45" fill="none" stroke="#c3d3f7" stroke-width="0.7"/>
<rect x="119.20" y="542.40" width="901.40" height="4.00" fill="#d9dfef"/>
<rect x="119.20" y="542.40" width="901.40" height="22.20" fill="none" stroke="#d6def2" stroke-width="0.6"/>
<rect x="117.60" y="549.8" width="3.6" height="11.6" rx="1.2" fill="#fff" stroke="#c4cde0" stroke-width="0.7"/>
<rect x="1018.80" y="549.8" width="3.6" height="11.6" rx="1.2" fill="#fff" stroke="#c4cde0" stroke-width="0.7"/>
<rect x="565" y="543.9" width="5" height="0.9" rx="0.4" fill="#f3f5fb"/>
</svg></body></html>
